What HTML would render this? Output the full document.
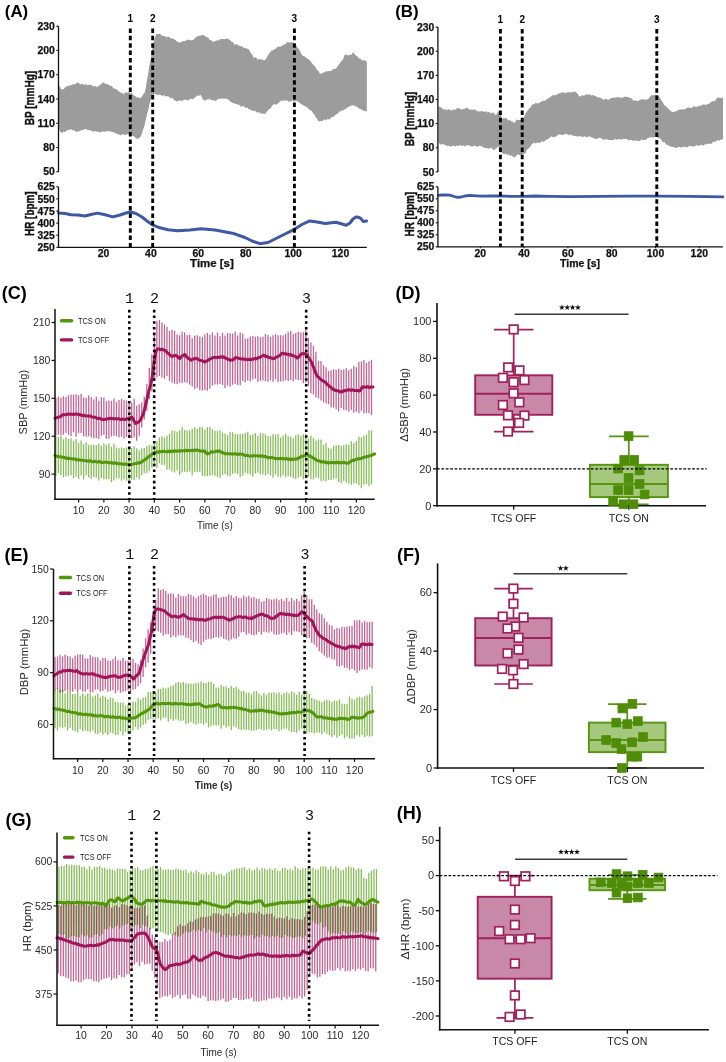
<!DOCTYPE html>
<html><head><meta charset="utf-8"><style>html,body{margin:0;padding:0;background:#fff;}svg{display:block;}</style></head><body>
<svg width="726" height="1062" viewBox="0 0 726 1062" font-family="Liberation Sans, sans-serif">
<rect width="726" height="1062" fill="#fff"/>
<polygon points="58.6,85.18 59.9,86.78 61.2,89.6 62.5,89.27 63.8,88.9 65.1,87.39 66.4,85.92 67.7,86.45 69,85.32 70.3,85.75 71.6,84.81 72.9,84.31 74.2,84.26 75.5,84.34 76.8,82.42 78.1,82.71 79.4,83.68 80.7,84.49 82,84.07 83.3,83.98 84.6,85.28 85.9,83.86 87.2,85.59 88.5,84.82 89.8,84.82 91.1,85.02 92.4,85.6 93.7,86.76 95,85.85 96.3,86.82 97.6,86.72 98.9,85.54 100.2,85.15 101.5,83.57 102.8,82.86 104.1,82.51 105.4,83.91 106.7,83.99 108,84.33 109.3,85.36 110.6,85.79 111.9,86.33 113.2,88.03 114.5,88.67 115.8,88.66 117.1,90.07 118.4,90.8 119.7,92.26 121,92.83 122.3,92.87 123.6,94.38 124.9,92.44 126.2,92.59 127.5,92.81 128.8,91.89 130.1,93.02 131.4,92.73 132.7,94.38 134,95.43 135.3,96.06 136.6,97.58 137.9,97.02 139.2,97.94 140.5,97.98 141.8,96.8 143.1,94.57 144.4,93.24 145.7,88.46 147,80.12 148.3,72.96 149.6,64.33 150.9,57.94 152.2,49.1 153.5,42.84 154.8,38.76 156.1,34.27 157.4,33.93 158.7,33.92 160,33.44 161.3,35.27 162.6,35.78 163.9,36.1 165.2,36.13 166.5,37.53 167.8,36.51 169.1,37.08 170.4,37.72 171.7,38.98 173,38.15 174.3,39.46 175.6,40.29 176.9,41.54 178.2,42.01 179.5,42.67 180.8,42.01 182.1,41.65 183.4,40.95 184.7,41.29 186,40.82 187.3,39.58 188.6,39.84 189.9,40.14 191.2,40.36 192.5,40.22 193.8,39.47 195.1,37.95 196.4,36.54 197.7,36.52 199,35.8 200.3,35.53 201.6,35.6 202.9,34.85 204.2,35.42 205.5,36.5 206.8,37.49 208.1,37.26 209.4,39.55 210.7,40.1 212,41.03 213.3,41.66 214.6,41.27 215.9,40.93 217.2,40.05 218.5,40.65 219.8,39.27 221.1,39.12 222.4,39.26 223.7,39.06 225,39.26 226.3,38.62 227.6,38.41 228.9,39.51 230.2,40.33 231.5,41.71 232.8,42.01 234.1,44.23 235.4,44.42 236.7,44.25 238,45.1 239.3,45.86 240.6,46.13 241.9,45.94 243.2,47.48 244.5,48.19 245.8,48.01 247.1,48.82 248.4,49.04 249.7,50.89 251,53.15 252.3,54.83 253.6,57.67 254.9,57.26 256.2,57.48 257.5,59.63 258.8,59.25 260.1,58.88 261.4,59.91 262.7,59.3 264,60.53 265.3,59.67 266.6,57.63 267.9,55.49 269.2,53.28 270.5,52.07 271.8,50.32 273.1,50.45 274.4,49.14 275.7,48.7 277,47.22 278.3,46.41 279.6,46.85 280.9,46.5 282.2,45.58 283.5,44.81 284.8,44.23 286.1,43.54 287.4,42.06 288.7,42.45 290,42.39 291.3,42.03 292.6,42.45 293.9,43.55 295.2,44.17 296.5,46.01 297.8,48.22 299.1,49.07 300.4,52.13 301.7,54.4 303,56.28 304.3,56.37 305.6,57.26 306.9,58.42 308.2,59.2 309.5,60.03 310.8,61.6 312.1,63.15 313.4,64.9 314.7,66.11 316,68.28 317.3,70.39 318.6,70.95 319.9,73.66 321.2,73.67 322.5,73.01 323.8,72.52 325.1,71.76 326.4,70.98 327.7,71.84 329,70.76 330.3,71.07 331.6,70.84 332.9,69.27 334.2,68.68 335.5,68.75 336.8,67.44 338.1,65.54 339.4,64.1 340.7,61.76 342,60.73 343.3,58.42 344.6,55.1 345.9,54.19 347.2,55.33 348.5,55.32 349.8,54.87 351.1,54.9 352.4,53.31 353.7,52.26 355,54.9 356.3,55.54 357.6,56.51 358.9,58.43 360.2,58.44 361.5,59.9 362.8,60.48 364.1,60.06 365.4,60.82 366.7,61.57 366.8,62 366.8,112 366.7,111.05 365.4,111.26 364.1,110.93 362.8,110.16 361.5,109.49 360.2,108.79 358.9,108.76 357.6,106.93 356.3,106.87 355,106.01 353.7,105.4 352.4,105.34 351.1,105.74 349.8,105.96 348.5,107.15 347.2,107.4 345.9,108.65 344.6,109.43 343.3,110.31 342,110.53 340.7,111.34 339.4,111.4 338.1,113.36 336.8,113.96 335.5,114.64 334.2,116.18 332.9,117.14 331.6,116.77 330.3,118.91 329,119.49 327.7,118.69 326.4,120.43 325.1,119.49 323.8,119.84 322.5,120.99 321.2,120.96 319.9,121.12 318.6,121.55 317.3,119.31 316,117.57 314.7,115.14 313.4,113.65 312.1,111.52 310.8,110.34 309.5,109.9 308.2,108.26 306.9,107.51 305.6,106.2 304.3,106.25 303,104.86 301.7,104.52 300.4,103.59 299.1,102.54 297.8,101.04 296.5,101.3 295.2,100.83 293.9,101.63 292.6,100.29 291.3,100.91 290,101.74 288.7,101.79 287.4,100.54 286.1,100.8 284.8,100.22 283.5,100.69 282.2,100.38 280.9,100.98 279.6,101.75 278.3,103.15 277,104.13 275.7,104.67 274.4,103.9 273.1,104.71 271.8,106.36 270.5,108.72 269.2,109 267.9,110.58 266.6,111.91 265.3,113.91 264,113.75 262.7,113.75 261.4,113.46 260.1,113.27 258.8,111.97 257.5,112.72 256.2,111.81 254.9,111.1 253.6,110.52 252.3,110.93 251,109.94 249.7,109.27 248.4,109.3 247.1,107.36 245.8,108.19 244.5,106.85 243.2,106.08 241.9,106.47 240.6,106.54 239.3,104.87 238,104.82 236.7,103.93 235.4,104.05 234.1,103.19 232.8,103.03 231.5,101.91 230.2,101.86 228.9,100.06 227.6,99.16 226.3,98.87 225,98.52 223.7,98.63 222.4,98.45 221.1,98.6 219.8,99.11 218.5,98.76 217.2,99.39 215.9,100.95 214.6,100.65 213.3,100.14 212,99.92 210.7,100.22 209.4,98.35 208.1,99.94 206.8,98.98 205.5,100.71 204.2,100.13 202.9,99.56 201.6,96.46 200.3,94.81 199,95.91 197.7,95.39 196.4,96.07 195.1,97.83 193.8,98.28 192.5,99.58 191.2,98.71 189.9,99.05 188.6,100.19 187.3,100.5 186,99.75 184.7,99.4 183.4,99.95 182.1,101.16 180.8,100.13 179.5,100.83 178.2,100.69 176.9,101.64 175.6,100.69 174.3,100.43 173,98.16 171.7,98.35 170.4,98.02 169.1,97.06 167.8,96.07 166.5,96.39 165.2,96.16 163.9,94.98 162.6,96.06 161.3,95.14 160,94.74 158.7,94.81 157.4,94.88 156.1,94.42 154.8,93.62 153.5,94.52 152.2,96.87 150.9,99.52 149.6,103.5 148.3,109.95 147,114.01 145.7,120.58 144.4,125.66 143.1,129.56 141.8,134.08 140.5,137.04 139.2,137.73 137.9,139.37 136.6,138.62 135.3,137.86 134,136.23 132.7,136.08 131.4,135.32 130.1,135.53 128.8,134.44 127.5,133.95 126.2,134.69 124.9,134.93 123.6,134.4 122.3,134.01 121,135.4 119.7,134.86 118.4,134.13 117.1,134.15 115.8,132.9 114.5,132.61 113.2,132.07 111.9,132.12 110.6,131.4 109.3,131.19 108,131.34 106.7,130.99 105.4,131.79 104.1,131.47 102.8,131.42 101.5,131.66 100.2,132.48 98.9,131.88 97.6,131.59 96.3,131.91 95,130.85 93.7,131.83 92.4,131.17 91.1,130.74 89.8,129.98 88.5,129.97 87.2,129.86 85.9,128.98 84.6,128.91 83.3,130.58 82,129.69 80.7,130.53 79.4,131.41 78.1,131.08 76.8,132.19 75.5,131.21 74.2,130.16 72.9,130.45 71.6,129.19 70.3,129.77 69,129.79 67.7,130.15 66.4,130.55 65.1,132.23 63.8,131.54 62.5,132.76 61.2,132.47 59.9,131.46 58.6,127.53" fill="#9c9c9c"/>
<polyline points="58.8,213.1 65,213.5 71,214.7 78,215 85,216 91,214.5 97.4,213.1 104,214.5 112.8,216.9 120,215 126,213 130.4,212 136,213.5 142,217 147,221 152.4,224.8 160,227.8 168,229.8 177.8,230.7 190,230 201,228.7 215,230 232.4,233.2 245,237.5 252,241 259.8,243.7 268,242.5 280,236.5 294.4,229.3 302,224.5 309.6,220.9 317,222 325.3,223.5 335.8,222.2 342,224 346.2,225.3 350,223 353,219 355.9,217 358.5,217.2 360.6,218.3 363.2,221.4 366.5,221" fill="none" stroke="#3d59a3" stroke-width="3" stroke-linejoin="round" stroke-linecap="round"/>
<line x1="58.5" y1="26.2" x2="58.5" y2="171.8" stroke="#111" stroke-width="1.3"/>
<line x1="58.5" y1="186.8" x2="58.5" y2="247.3" stroke="#111" stroke-width="1.3"/>
<line x1="57.9" y1="247.3" x2="366.8" y2="247.3" stroke="#111" stroke-width="1.3"/>
<line x1="56.3" y1="26.2" x2="58.5" y2="26.2" stroke="#111" stroke-width="1.1"/>
<text x="54.9" y="29.82" font-size="10.5" font-weight="bold" fill="#111" text-anchor="end" textLength="17.4" lengthAdjust="spacingAndGlyphs" stroke="#111" stroke-width="0.25">230</text>
<line x1="56.3" y1="50.47" x2="58.5" y2="50.47" stroke="#111" stroke-width="1.1"/>
<text x="54.9" y="54.09" font-size="10.5" font-weight="bold" fill="#111" text-anchor="end" textLength="17.4" lengthAdjust="spacingAndGlyphs" stroke="#111" stroke-width="0.25">200</text>
<line x1="56.3" y1="74.73" x2="58.5" y2="74.73" stroke="#111" stroke-width="1.1"/>
<text x="54.9" y="78.36" font-size="10.5" font-weight="bold" fill="#111" text-anchor="end" textLength="17.4" lengthAdjust="spacingAndGlyphs" stroke="#111" stroke-width="0.25">170</text>
<line x1="56.3" y1="99" x2="58.5" y2="99" stroke="#111" stroke-width="1.1"/>
<text x="54.9" y="102.62" font-size="10.5" font-weight="bold" fill="#111" text-anchor="end" textLength="17.4" lengthAdjust="spacingAndGlyphs" stroke="#111" stroke-width="0.25">140</text>
<line x1="56.3" y1="123.27" x2="58.5" y2="123.27" stroke="#111" stroke-width="1.1"/>
<text x="54.9" y="126.89" font-size="10.5" font-weight="bold" fill="#111" text-anchor="end" textLength="17.4" lengthAdjust="spacingAndGlyphs" stroke="#111" stroke-width="0.25">110</text>
<line x1="56.3" y1="147.53" x2="58.5" y2="147.53" stroke="#111" stroke-width="1.1"/>
<text x="54.9" y="151.16" font-size="10.5" font-weight="bold" fill="#111" text-anchor="end" textLength="11.6" lengthAdjust="spacingAndGlyphs" stroke="#111" stroke-width="0.25">80</text>
<line x1="56.3" y1="171.8" x2="58.5" y2="171.8" stroke="#111" stroke-width="1.1"/>
<text x="54.9" y="175.42" font-size="10.5" font-weight="bold" fill="#111" text-anchor="end" textLength="11.6" lengthAdjust="spacingAndGlyphs" stroke="#111" stroke-width="0.25">50</text>
<line x1="56.3" y1="186.8" x2="58.5" y2="186.8" stroke="#111" stroke-width="1.1"/>
<text x="54.9" y="190.42" font-size="10.5" font-weight="bold" fill="#111" text-anchor="end" textLength="17.4" lengthAdjust="spacingAndGlyphs" stroke="#111" stroke-width="0.25">625</text>
<line x1="56.3" y1="198.9" x2="58.5" y2="198.9" stroke="#111" stroke-width="1.1"/>
<text x="54.9" y="202.52" font-size="10.5" font-weight="bold" fill="#111" text-anchor="end" textLength="17.4" lengthAdjust="spacingAndGlyphs" stroke="#111" stroke-width="0.25">550</text>
<line x1="56.3" y1="211" x2="58.5" y2="211" stroke="#111" stroke-width="1.1"/>
<text x="54.9" y="214.62" font-size="10.5" font-weight="bold" fill="#111" text-anchor="end" textLength="17.4" lengthAdjust="spacingAndGlyphs" stroke="#111" stroke-width="0.25">475</text>
<line x1="56.3" y1="223.1" x2="58.5" y2="223.1" stroke="#111" stroke-width="1.1"/>
<text x="54.9" y="226.72" font-size="10.5" font-weight="bold" fill="#111" text-anchor="end" textLength="17.4" lengthAdjust="spacingAndGlyphs" stroke="#111" stroke-width="0.25">400</text>
<line x1="56.3" y1="235.2" x2="58.5" y2="235.2" stroke="#111" stroke-width="1.1"/>
<text x="54.9" y="238.82" font-size="10.5" font-weight="bold" fill="#111" text-anchor="end" textLength="17.4" lengthAdjust="spacingAndGlyphs" stroke="#111" stroke-width="0.25">325</text>
<line x1="56.3" y1="247.3" x2="58.5" y2="247.3" stroke="#111" stroke-width="1.1"/>
<text x="54.9" y="250.92" font-size="10.5" font-weight="bold" fill="#111" text-anchor="end" textLength="17.4" lengthAdjust="spacingAndGlyphs" stroke="#111" stroke-width="0.25">250</text>
<line x1="103.5" y1="247.3" x2="103.5" y2="248.8" stroke="#111" stroke-width="1"/>
<text x="103.5" y="256.85" font-size="10.3" font-weight="bold" fill="#111" text-anchor="middle" textLength="11.6" lengthAdjust="spacingAndGlyphs" stroke="#111" stroke-width="0.25">20</text>
<line x1="150.9" y1="247.3" x2="150.9" y2="248.8" stroke="#111" stroke-width="1"/>
<text x="150.9" y="256.85" font-size="10.3" font-weight="bold" fill="#111" text-anchor="middle" textLength="11.6" lengthAdjust="spacingAndGlyphs" stroke="#111" stroke-width="0.25">40</text>
<line x1="198.3" y1="247.3" x2="198.3" y2="248.8" stroke="#111" stroke-width="1"/>
<text x="198.3" y="256.85" font-size="10.3" font-weight="bold" fill="#111" text-anchor="middle" textLength="11.6" lengthAdjust="spacingAndGlyphs" stroke="#111" stroke-width="0.25">60</text>
<line x1="245.7" y1="247.3" x2="245.7" y2="248.8" stroke="#111" stroke-width="1"/>
<text x="245.7" y="256.85" font-size="10.3" font-weight="bold" fill="#111" text-anchor="middle" textLength="11.6" lengthAdjust="spacingAndGlyphs" stroke="#111" stroke-width="0.25">80</text>
<line x1="293.1" y1="247.3" x2="293.1" y2="248.8" stroke="#111" stroke-width="1"/>
<text x="293.1" y="256.85" font-size="10.3" font-weight="bold" fill="#111" text-anchor="middle" textLength="17.4" lengthAdjust="spacingAndGlyphs" stroke="#111" stroke-width="0.25">100</text>
<line x1="340.5" y1="247.3" x2="340.5" y2="248.8" stroke="#111" stroke-width="1"/>
<text x="340.5" y="256.85" font-size="10.3" font-weight="bold" fill="#111" text-anchor="middle" textLength="17.4" lengthAdjust="spacingAndGlyphs" stroke="#111" stroke-width="0.25">120</text>
<line x1="130.3" y1="28.4" x2="130.3" y2="247.3" stroke="#000" stroke-width="2.9" stroke-dasharray="4.5 2.9"/>
<text x="130.3" y="21.92" font-size="10.2" font-weight="bold" fill="#000" text-anchor="middle" textLength="5.6" lengthAdjust="spacingAndGlyphs">1</text>
<line x1="152.7" y1="28.4" x2="152.7" y2="247.3" stroke="#000" stroke-width="2.9" stroke-dasharray="4.5 2.9"/>
<text x="152.7" y="21.92" font-size="10.2" font-weight="bold" fill="#000" text-anchor="middle" textLength="5.6" lengthAdjust="spacingAndGlyphs">2</text>
<line x1="294.4" y1="28.4" x2="294.4" y2="247.3" stroke="#000" stroke-width="2.9" stroke-dasharray="4.5 2.9"/>
<text x="294.4" y="21.92" font-size="10.2" font-weight="bold" fill="#000" text-anchor="middle" textLength="5.6" lengthAdjust="spacingAndGlyphs">3</text>
<text x="4.8" y="17.17" font-size="17.3" font-weight="bold" fill="#000" text-anchor="start" textLength="23.4" lengthAdjust="spacingAndGlyphs">(A)</text>
<text transform="translate(33.6,98.1) scale(1.3,1) rotate(-90)" font-size="10.2" font-weight="bold" fill="#111" stroke="#111" stroke-width="0.35" text-anchor="middle" textLength="54.5" lengthAdjust="spacingAndGlyphs">BP [mmHg]</text>
<text transform="translate(33.6,213.7) scale(1.3,1) rotate(-90)" font-size="10.2" font-weight="bold" fill="#111" stroke="#111" stroke-width="0.35" text-anchor="middle" textLength="44.5" lengthAdjust="spacingAndGlyphs">HR [bpm]</text>
<text x="211.95" y="266.82" font-size="10.2" font-weight="bold" fill="#111" text-anchor="middle" textLength="43.7" lengthAdjust="spacingAndGlyphs" stroke="#111" stroke-width="0.25">Time [s]</text>
<polygon points="438.4,106.44 439.7,106.75 441,107.28 442.3,108.48 443.6,109.57 444.9,108.78 446.2,110.26 447.5,109.58 448.8,109.34 450.1,109.76 451.4,110.68 452.7,109.47 454,109.87 455.3,109.78 456.6,108.59 457.9,108.06 459.2,108.22 460.5,108.93 461.8,109.43 463.1,109.08 464.4,108.98 465.7,107.81 467,108.01 468.3,108.48 469.6,109.64 470.9,109.13 472.2,109.89 473.5,109.19 474.8,109.57 476.1,110.24 477.4,111.14 478.7,111.33 480,111.46 481.3,110.92 482.6,111.48 483.9,111.52 485.2,111.64 486.5,111.14 487.8,112.65 489.1,111.52 490.4,113.19 491.7,113.45 493,112.13 494.3,113.64 495.6,115 496.9,114.09 498.2,110.79 499.5,112.61 500.8,114.99 502.1,118.77 503.4,118.24 504.7,118.29 506,117.87 507.3,119.22 508.6,120.66 509.9,119.72 511.2,121.34 512.5,121.37 513.8,122.98 515.1,122.62 516.4,119.36 517.7,120.07 519,120.03 520.3,120.11 521.6,119.91 522.9,119.77 524.2,116.74 525.5,113.86 526.8,111.54 528.1,109.88 529.4,107.93 530.7,107.43 532,104.47 533.3,104.37 534.6,104.09 535.9,102.54 537.2,103.7 538.5,102.9 539.8,102.82 541.1,101.39 542.4,101.22 543.7,100.56 545,100.96 546.3,99.53 547.6,98.47 548.9,97.99 550.2,97.11 551.5,95.98 552.8,95.07 554.1,95.76 555.4,94.39 556.7,95.17 558,93.55 559.3,93.18 560.6,93.21 561.9,92.23 563.2,92.2 564.5,92.91 565.8,92.69 567.1,92.46 568.4,92.03 569.7,92.44 571,92.39 572.3,91.84 573.6,92.29 574.9,91.23 576.2,92.44 577.5,93.48 578.8,95.87 580.1,96.83 581.4,95.77 582.7,94.93 584,96.09 585.3,94.31 586.6,94.83 587.9,94.5 589.2,94.31 590.5,95.01 591.8,95.49 593.1,94.8 594.4,96.1 595.7,96.05 597,97.1 598.3,97.38 599.6,97.55 600.9,98.12 602.2,98.77 603.5,99.96 604.8,99.16 606.1,98.59 607.4,99.76 608.7,99.81 610,98.67 611.3,97.96 612.6,97.89 613.9,97.55 615.2,97.83 616.5,97.21 617.8,97.31 619.1,97.18 620.4,97.58 621.7,98 623,97.61 624.3,96.85 625.6,96.7 626.9,96.75 628.2,97.17 629.5,97.85 630.8,98.1 632.1,99.09 633.4,100.91 634.7,99.97 636,100.92 637.3,100.91 638.6,101.09 639.9,99.69 641.2,99.56 642.5,99.35 643.8,99.45 645.1,99.36 646.4,100.05 647.7,99.06 649,98.29 650.3,95.94 651.6,95.11 652.9,95.47 654.2,95.27 655.5,94.72 656.8,95.13 658.1,95.06 659.4,96.9 660.7,99.32 662,101.09 663.3,103.15 664.6,105.56 665.9,106.26 667.2,107.39 668.5,108.85 669.8,110.37 671.1,111.2 672.4,112.2 673.7,111.93 675,111.42 676.3,111.25 677.6,110.33 678.9,110.12 680.2,108.91 681.5,109.97 682.8,108.7 684.1,109.66 685.4,108.89 686.7,108.03 688,107.5 689.3,107.5 690.6,107.98 691.9,107.87 693.2,106.6 694.5,106.31 695.8,106.88 697.1,106.71 698.4,106.09 699.7,105.53 701,105.94 702.3,104.61 703.6,104.79 704.9,104.59 706.2,105 707.5,103.95 708.8,103.88 710.1,102.63 711.4,101.68 712.7,100.98 714,101.45 715.3,100.17 716.6,98.59 717.9,97.21 719.2,97.8 720.5,98.11 721.8,97.66 723,97.8 723,138.7 721.8,139.81 720.5,139.68 719.2,141.12 717.9,140.03 716.6,140.78 715.3,142.11 714,141.55 712.7,142.24 711.4,143.77 710.1,143.9 708.8,143.44 707.5,143.69 706.2,144.41 704.9,144.3 703.6,145.81 702.3,144.88 701,145.01 699.7,145.42 698.4,146.11 697.1,145.33 695.8,145.38 694.5,146.54 693.2,146.56 691.9,146.41 690.6,145.99 689.3,146.04 688,147.03 686.7,147.59 685.4,146.63 684.1,146.94 682.8,146.81 681.5,147.79 680.2,147.26 678.9,146.78 677.6,147.22 676.3,148.01 675,147.81 673.7,147.08 672.4,146.88 671.1,146.66 669.8,146.27 668.5,145.14 667.2,145.01 665.9,144.08 664.6,142.05 663.3,142.4 662,140.97 660.7,138.97 659.4,138.24 658.1,138.09 656.8,136.38 655.5,137.05 654.2,136.88 652.9,138.04 651.6,137.05 650.3,137.26 649,137.91 647.7,137.79 646.4,139.69 645.1,139.87 643.8,140.14 642.5,139.83 641.2,139.4 639.9,141.19 638.6,140.78 637.3,141.25 636,140.24 634.7,140.58 633.4,141.3 632.1,140.07 630.8,139.78 629.5,140.09 628.2,140.49 626.9,139.03 625.6,139.05 624.3,138.91 623,138.77 621.7,139.77 620.4,139.15 619.1,139.53 617.8,139.06 616.5,140.08 615.2,138.81 613.9,139.83 612.6,140.21 611.3,140.08 610,139.99 608.7,139.94 607.4,139.62 606.1,139.25 604.8,139.41 603.5,139.66 602.2,139.05 600.9,138.1 599.6,137.86 598.3,137.99 597,139.14 595.7,138.79 594.4,138.81 593.1,137.48 591.8,137.73 590.5,136.67 589.2,136.6 587.9,136.81 586.6,137.6 585.3,136.48 584,136.16 582.7,137.33 581.4,136.47 580.1,136.29 578.8,136.21 577.5,136.41 576.2,136.37 574.9,136.12 573.6,135.63 572.3,135.54 571,134.28 569.7,135.47 568.4,134.53 567.1,134.3 565.8,133.86 564.5,133.99 563.2,134.9 561.9,134.92 560.6,134.47 559.3,134.46 558,134.5 556.7,136.57 555.4,136.4 554.1,137.25 552.8,137.31 551.5,136.3 550.2,137.37 548.9,138.13 547.6,139.54 546.3,139.41 545,140.67 543.7,141.88 542.4,141.24 541.1,141.66 539.8,142.93 538.5,142.93 537.2,142.32 535.9,143.8 534.6,142.81 533.3,143.31 532,143.88 530.7,146.21 529.4,147.86 528.1,148.72 526.8,149.9 525.5,153.35 524.2,153.68 522.9,153.7 521.6,155.33 520.3,154.67 519,154.89 517.7,154.17 516.4,155.45 515.1,157.39 513.8,157.29 512.5,155.94 511.2,155.15 509.9,155.98 508.6,154.03 507.3,155.17 506,153.73 504.7,153.96 503.4,153.81 502.1,153.22 500.8,151.15 499.5,148.63 498.2,146 496.9,148.05 495.6,148.45 494.3,150.08 493,149.75 491.7,147.73 490.4,147.77 489.1,148.63 487.8,148.53 486.5,147.86 485.2,147.96 483.9,147.82 482.6,146.75 481.3,145.98 480,145.83 478.7,145.88 477.4,147.26 476.1,145.77 474.8,145.98 473.5,145.44 472.2,146.81 470.9,146.23 469.6,145.71 468.3,145.29 467,145.16 465.7,145.64 464.4,146.39 463.1,145.14 461.8,146.03 460.5,145.13 459.2,145.22 457.9,146.35 456.6,145.51 455.3,146.77 454,145.46 452.7,146.07 451.4,146.52 450.1,146.59 448.8,145.48 447.5,146.31 446.2,145.54 444.9,145.09 443.6,144.25 442.3,144.1 441,144.76 439.7,143.7 438.4,142.36" fill="#9c9c9c"/>
<polyline points="438.4,195.3 442,195 446,194.8 450,195.2 454,196.5 457.5,197.4 461,197 465,196 470,195.4 476,195.8 484,196.2 492,196 500,195.8 510,196.3 522,196.4 535,196 550,196.3 570,196.6 600,196.3 630,196.1 657,196.2 690,196.4 723,196.8" fill="none" stroke="#3d59a3" stroke-width="2.8" stroke-linejoin="round" stroke-linecap="round"/>
<line x1="437.9" y1="27.1" x2="437.9" y2="171.9" stroke="#111" stroke-width="1.3"/>
<line x1="437.9" y1="186.8" x2="437.9" y2="246.8" stroke="#111" stroke-width="1.3"/>
<line x1="437.3" y1="246.8" x2="722.8" y2="246.8" stroke="#111" stroke-width="1.3"/>
<line x1="435.7" y1="27.1" x2="437.9" y2="27.1" stroke="#111" stroke-width="1.1"/>
<text x="434.3" y="30.72" font-size="10.5" font-weight="bold" fill="#111" text-anchor="end" textLength="17.4" lengthAdjust="spacingAndGlyphs" stroke="#111" stroke-width="0.25">230</text>
<line x1="435.7" y1="51.23" x2="437.9" y2="51.23" stroke="#111" stroke-width="1.1"/>
<text x="434.3" y="54.86" font-size="10.5" font-weight="bold" fill="#111" text-anchor="end" textLength="17.4" lengthAdjust="spacingAndGlyphs" stroke="#111" stroke-width="0.25">200</text>
<line x1="435.7" y1="75.37" x2="437.9" y2="75.37" stroke="#111" stroke-width="1.1"/>
<text x="434.3" y="78.99" font-size="10.5" font-weight="bold" fill="#111" text-anchor="end" textLength="17.4" lengthAdjust="spacingAndGlyphs" stroke="#111" stroke-width="0.25">170</text>
<line x1="435.7" y1="99.5" x2="437.9" y2="99.5" stroke="#111" stroke-width="1.1"/>
<text x="434.3" y="103.12" font-size="10.5" font-weight="bold" fill="#111" text-anchor="end" textLength="17.4" lengthAdjust="spacingAndGlyphs" stroke="#111" stroke-width="0.25">140</text>
<line x1="435.7" y1="123.63" x2="437.9" y2="123.63" stroke="#111" stroke-width="1.1"/>
<text x="434.3" y="127.26" font-size="10.5" font-weight="bold" fill="#111" text-anchor="end" textLength="17.4" lengthAdjust="spacingAndGlyphs" stroke="#111" stroke-width="0.25">110</text>
<line x1="435.7" y1="147.77" x2="437.9" y2="147.77" stroke="#111" stroke-width="1.1"/>
<text x="434.3" y="151.39" font-size="10.5" font-weight="bold" fill="#111" text-anchor="end" textLength="11.6" lengthAdjust="spacingAndGlyphs" stroke="#111" stroke-width="0.25">80</text>
<line x1="435.7" y1="171.9" x2="437.9" y2="171.9" stroke="#111" stroke-width="1.1"/>
<text x="434.3" y="175.52" font-size="10.5" font-weight="bold" fill="#111" text-anchor="end" textLength="11.6" lengthAdjust="spacingAndGlyphs" stroke="#111" stroke-width="0.25">50</text>
<line x1="435.7" y1="186.8" x2="437.9" y2="186.8" stroke="#111" stroke-width="1.1"/>
<text x="434.3" y="190.42" font-size="10.5" font-weight="bold" fill="#111" text-anchor="end" textLength="17.4" lengthAdjust="spacingAndGlyphs" stroke="#111" stroke-width="0.25">625</text>
<line x1="435.7" y1="198.8" x2="437.9" y2="198.8" stroke="#111" stroke-width="1.1"/>
<text x="434.3" y="202.42" font-size="10.5" font-weight="bold" fill="#111" text-anchor="end" textLength="17.4" lengthAdjust="spacingAndGlyphs" stroke="#111" stroke-width="0.25">550</text>
<line x1="435.7" y1="210.8" x2="437.9" y2="210.8" stroke="#111" stroke-width="1.1"/>
<text x="434.3" y="214.42" font-size="10.5" font-weight="bold" fill="#111" text-anchor="end" textLength="17.4" lengthAdjust="spacingAndGlyphs" stroke="#111" stroke-width="0.25">475</text>
<line x1="435.7" y1="222.8" x2="437.9" y2="222.8" stroke="#111" stroke-width="1.1"/>
<text x="434.3" y="226.42" font-size="10.5" font-weight="bold" fill="#111" text-anchor="end" textLength="17.4" lengthAdjust="spacingAndGlyphs" stroke="#111" stroke-width="0.25">400</text>
<line x1="435.7" y1="234.8" x2="437.9" y2="234.8" stroke="#111" stroke-width="1.1"/>
<text x="434.3" y="238.42" font-size="10.5" font-weight="bold" fill="#111" text-anchor="end" textLength="17.4" lengthAdjust="spacingAndGlyphs" stroke="#111" stroke-width="0.25">325</text>
<line x1="435.7" y1="246.8" x2="437.9" y2="246.8" stroke="#111" stroke-width="1.1"/>
<text x="434.3" y="250.42" font-size="10.5" font-weight="bold" fill="#111" text-anchor="end" textLength="17.4" lengthAdjust="spacingAndGlyphs" stroke="#111" stroke-width="0.25">250</text>
<line x1="480.3" y1="246.8" x2="480.3" y2="248.3" stroke="#111" stroke-width="1"/>
<text x="480.3" y="256.65" font-size="10.3" font-weight="bold" fill="#111" text-anchor="middle" textLength="11.6" lengthAdjust="spacingAndGlyphs" stroke="#111" stroke-width="0.25">20</text>
<line x1="524.1" y1="246.8" x2="524.1" y2="248.3" stroke="#111" stroke-width="1"/>
<text x="524.1" y="256.65" font-size="10.3" font-weight="bold" fill="#111" text-anchor="middle" textLength="11.6" lengthAdjust="spacingAndGlyphs" stroke="#111" stroke-width="0.25">40</text>
<line x1="567.9" y1="246.8" x2="567.9" y2="248.3" stroke="#111" stroke-width="1"/>
<text x="567.9" y="256.65" font-size="10.3" font-weight="bold" fill="#111" text-anchor="middle" textLength="11.6" lengthAdjust="spacingAndGlyphs" stroke="#111" stroke-width="0.25">60</text>
<line x1="611.7" y1="246.8" x2="611.7" y2="248.3" stroke="#111" stroke-width="1"/>
<text x="611.7" y="256.65" font-size="10.3" font-weight="bold" fill="#111" text-anchor="middle" textLength="11.6" lengthAdjust="spacingAndGlyphs" stroke="#111" stroke-width="0.25">80</text>
<line x1="655.5" y1="246.8" x2="655.5" y2="248.3" stroke="#111" stroke-width="1"/>
<text x="655.5" y="256.65" font-size="10.3" font-weight="bold" fill="#111" text-anchor="middle" textLength="17.4" lengthAdjust="spacingAndGlyphs" stroke="#111" stroke-width="0.25">100</text>
<line x1="699.3" y1="246.8" x2="699.3" y2="248.3" stroke="#111" stroke-width="1"/>
<text x="699.3" y="256.65" font-size="10.3" font-weight="bold" fill="#111" text-anchor="middle" textLength="17.4" lengthAdjust="spacingAndGlyphs" stroke="#111" stroke-width="0.25">120</text>
<line x1="500.4" y1="29" x2="500.4" y2="246.8" stroke="#000" stroke-width="2.9" stroke-dasharray="4.5 2.9"/>
<text x="500.4" y="23.42" font-size="10.2" font-weight="bold" fill="#000" text-anchor="middle" textLength="5.6" lengthAdjust="spacingAndGlyphs">1</text>
<line x1="522.2" y1="29" x2="522.2" y2="246.8" stroke="#000" stroke-width="2.9" stroke-dasharray="4.5 2.9"/>
<text x="522.2" y="23.42" font-size="10.2" font-weight="bold" fill="#000" text-anchor="middle" textLength="5.6" lengthAdjust="spacingAndGlyphs">2</text>
<line x1="656.8" y1="29" x2="656.8" y2="246.8" stroke="#000" stroke-width="2.9" stroke-dasharray="4.5 2.9"/>
<text x="656.8" y="23.42" font-size="10.2" font-weight="bold" fill="#000" text-anchor="middle" textLength="5.6" lengthAdjust="spacingAndGlyphs">3</text>
<text x="395.2" y="17.17" font-size="17.3" font-weight="bold" fill="#000" text-anchor="start" textLength="23.4" lengthAdjust="spacingAndGlyphs">(B)</text>
<text transform="translate(413.8,119.1) scale(1.3,1) rotate(-90)" font-size="10.2" font-weight="bold" fill="#111" stroke="#111" stroke-width="0.35" text-anchor="middle" textLength="54.5" lengthAdjust="spacingAndGlyphs">BP [mmHg]</text>
<text transform="translate(413.8,214.2) scale(1.3,1) rotate(-90)" font-size="10.2" font-weight="bold" fill="#111" stroke="#111" stroke-width="0.35" text-anchor="middle" textLength="44.5" lengthAdjust="spacingAndGlyphs">HR [bpm]</text>
<text x="580" y="266.82" font-size="10.2" font-weight="bold" fill="#111" text-anchor="middle" textLength="40" lengthAdjust="spacingAndGlyphs" stroke="#111" stroke-width="0.25">Time [s]</text>
<path d="M55.88 435.83V476.35M58.4 436.84V473.29M60.92 435.55V475.33M63.45 439.18V477.23M65.97 437.29V476.16M68.5 439.04V475.87M71.03 438.46V475.11M73.55 440.64V478.31M76.08 439.19V476.56M78.6 442.85V479.01M81.12 440.44V475.41M83.65 444.16V479.59M86.17 442.33V475.62M88.7 444.66V477.44M91.22 444.85V478.79M93.75 444.77V476.95M96.28 444.89V477.51M98.8 443.42V480.66M101.33 445.7V477.89M103.85 443.24V479.16M106.38 444.97V479.37M108.9 443.51V479.02M111.42 446.63V482.13M113.95 443.84V480.59M116.47 447.49V478.18M119 448.22V478.54M121.53 447.47V480.53M124.05 447.95V479.41M126.57 447.29V480.68M129.1 447.57V481.03M131.62 447.92V479.64M134.15 446.22V479.89M136.68 448.62V477.55M139.2 450.13V479.47M141.72 448.46V475.32M144.25 448.03V473.22M146.78 445.94V472.94M149.3 445.26V471.22M151.82 445.22V467.77M154.35 443.28V466.42M156.88 441.16V468.08M159.4 437.56V463.22M161.93 436.13V464.97M164.45 437.15V464.69M166.97 435.68V469.48M169.5 434.07V469.48M172.03 430.56V471.43M174.55 430.9V472.58M177.07 431.81V470.2M179.6 430.19V474.98M182.12 426.7V472.51M184.65 429.88V471.63M187.17 430.52V472.16M189.7 430.15V471.56M192.22 428.71V475.13M194.75 427.36V472.11M197.27 428.73V472.37M199.8 426.57V471.74M202.32 427.14V475.77M204.85 429.53V476.18M207.38 427.18V476.28M209.9 426.93V475.72M212.42 429.33V474.92M214.95 430.42V475.77M217.47 430.7V477.24M220 430.18V477.71M222.52 432.72V474.91M225.05 433.62V474.28M227.57 434.64V475.67M230.1 431.86V476.5M232.62 432.37V473.75M235.15 433.88V473.12M237.67 434.35V474.02M240.2 433.66V477.34M242.72 433.71V475.83M245.25 432.74V472.74M247.77 431.75V473.38M250.3 434.72V474.64M252.82 434.53V476.73M255.35 433.07V473.62M257.88 435.76V472.64M260.4 433.02V474.16M262.93 433.57V474.35M265.45 434.18V475.58M267.98 435.93V474.02M270.5 436.16V475.45M273.02 433.98V477.75M275.55 434.55V474.31M278.07 433.94V476.75M280.6 437.57V477.59M283.12 435.48V475.39M285.65 433.76V477.33M288.18 436.36V476.15M290.7 436.81V476.77M293.23 438.22V478.28M295.75 435.13V479.25M298.27 434.25V477.72M300.8 435.97V476.56M303.32 434.37V479.26M305.85 434.16V478.42M308.38 438.43V476.75M310.9 435.43V479.1M313.43 438.01V479.46M315.95 440.58V477.52M318.48 439.42V478.31M321 439.61V481.22M323.53 444.73V480.63M326.05 442.9V481.43M328.57 448.04V479.9M331.1 448.74V480.05M333.62 445.75V478.66M336.15 445.16V478.56M338.68 445.02V482.04M341.2 446.05V482.92M343.73 445.51V480.97M346.25 444.17V482.46M348.78 444.63V483.56M351.3 441.16V484.82M353.82 442.91V483.57M356.35 441.04V483.35M358.88 436.72V485.07M361.4 437.47V488.25M363.93 435.87V484.68M366.45 434.82V483.97M368.98 430.21V485.91M371.5 430.35V484.2" stroke="#88bd5a" stroke-width="1.3" fill="none" opacity="1"/>
<path d="M55.88 397.73V435.27M58.4 396.72V434.83M60.92 397.67V435.12M63.45 396.37V434.71M65.97 396.88V432.99M68.5 395.14V434.64M71.03 394.42V436.17M73.55 394.62V432.31M76.08 394.35V436.66M78.6 395.34V433.24M81.12 394V433M83.65 397.43V435.98M86.17 397.83V436.71M88.7 395.31V436.29M91.22 397.06V437.58M93.75 399.53V438.17M96.28 396.44V438.32M98.8 400.73V438.92M101.33 397.33V435.7M103.85 397.6V435.01M106.38 401.24V438.69M108.9 400.51V438.85M111.42 400.75V436.48M113.95 398.55V435.71M116.47 401.83V436.3M119 400.07V437.41M121.53 398.8V436.68M124.05 400V438.79M126.57 400.39V436.98M129.1 403.13V437.82M131.62 402.62V438.34M134.15 398.84V437.4M136.68 405.73V440.73M139.2 404.1V435.68M141.72 402.45V427.63M144.25 396.48V419.59M146.78 383.78V410.8M149.3 367.79V399.01M151.82 354.28V391.17M154.35 333.99V381.09M156.88 321.2V377.51M159.4 319.93V375.92M161.93 322.48V377.52M164.45 324.15V378.83M166.97 326.68V376.28M169.5 331.12V381.01M172.03 329.74V382.67M174.55 330.64V383.78M177.07 334.51V384.2M179.6 335.22V382.64M182.12 331.69V383.24M184.65 332.31V382.24M187.17 335.08V382.73M189.7 334.72V384.66M192.22 338.25V386.59M194.75 335.84V389.18M197.27 335.17V388.07M199.8 336.55V390.25M202.32 337.01V390.59M204.85 334.54V389.95M207.38 333.04V390.81M209.9 334.77V388.68M212.42 332.58V385.62M214.95 335.46V384.6M217.47 332.58V384.57M220 336.17V384.09M222.52 333.08V384.94M225.05 335.54V387.99M227.57 333.11V385.38M230.1 333.59V386.66M232.62 333.59V384.79M235.15 331.57V383.8M237.67 335.5V385.18M240.2 332.44V385.14M242.72 333.4V381.37M245.25 338.42V382.25M247.77 338.23V380.57M250.3 336.55V381.48M252.82 335.74V379.46M255.35 336.63V378.64M257.88 336.28V382.1M260.4 337.24V380.73M262.93 336.66V380.54M265.45 334.1V381.15M267.98 335V381.76M270.5 337.02V380.3M273.02 335.18V381.74M275.55 334.17V379.32M278.07 335.25V382.29M280.6 335.2V381.43M283.12 335.31V381.31M285.65 334.09V380.24M288.18 332.32V381.02M290.7 331.08V380.03M293.23 333.98V381.35M295.75 333.02V379.2M298.27 331.82V380.11M300.8 332.43V380.11M303.32 332.25V383.22M305.85 329.57V382.67M308.38 337.82V385.84M310.9 342.39V393.17M313.43 345.9V394.38M315.95 351.83V397.55M318.48 360.79V398.43M321 361.03V400.46M323.53 365.22V402.43M326.05 367.26V403.39M328.57 370.89V404.16M331.1 370.19V407.43M333.62 369.27V407.53M336.15 370.11V409.21M338.68 368.86V411.54M341.2 369.94V408.08M343.73 369.56V409.91M346.25 368.36V410.25M348.78 370.23V411.79M351.3 368.8V410.05M353.82 366.04V412.49M356.35 367.16V411.76M358.88 361.67V413.27M361.4 361.4V410.78M363.93 359.99V413.57M366.45 362.93V413.11M368.98 361.17V412.98M371.5 359.85V415.02" stroke="#c06693" stroke-width="1.3" fill="none" opacity="1" style="mix-blend-mode:multiply"/>
<polyline points="55,455.47 56.26,456 57.52,456.44 58.78,456.71 60.04,456.67 61.3,456.79 62.56,457.29 63.82,457.19 65.08,458.1 66.34,457.93 67.6,458.58 68.86,458.27 70.12,458.58 71.38,458.67 72.64,459.04 73.9,459.03 75.16,459.08 76.42,459.94 77.68,459.75 78.94,459.85 80.2,460 81.46,460.27 82.72,460.33 83.98,460.62 85.24,460.75 86.5,460.58 87.76,461.2 89.02,461.24 90.28,460.63 91.54,461.47 92.8,461.68 94.06,461.71 95.32,461.27 96.58,462.03 97.84,461.99 99.1,461.57 100.36,461.71 101.62,462.7 102.88,462.57 104.14,462.3 105.4,462.22 106.66,462.32 107.92,462.45 109.18,463 110.44,462.66 111.7,462.54 112.96,463.27 114.22,463.23 115.48,462.75 116.74,463.54 118,463.42 119.26,463.72 120.52,463.75 121.78,464.09 123.04,464.13 124.3,464.32 125.56,463.88 126.82,464.46 128.08,464.45 129.34,464.66 130.6,464.24 131.86,464.5 133.12,464.06 134.38,463.66 135.64,463.44 136.9,463.12 138.16,463.2 139.42,462.58 140.68,462.71 141.94,461.58 143.2,460.92 144.46,459.96 145.72,459.02 146.98,458.34 148.24,456.61 149.5,456.41 150.76,455.11 152.02,454.24 153.28,453.38 154.54,452.6 155.8,452.05 157.06,451.95 158.32,452.3 159.58,451.36 160.84,451.79 162.1,451.74 163.36,451.14 164.62,451.61 165.88,451.63 167.14,451.8 168.4,451.21 169.66,451.75 170.92,451.27 172.18,451.2 173.44,451.52 174.7,450.69 175.96,451.26 177.22,451.12 178.48,450.82 179.74,451.24 181,450.73 182.26,450.77 183.52,450.76 184.78,450.92 186.04,450.36 187.3,450.5 188.56,450.43 189.82,450.49 191.08,450.67 192.34,450.13 193.6,450.55 194.86,450.11 196.12,450.14 197.38,449.96 198.64,450.37 199.9,451 201.16,450.92 202.42,451.24 203.68,451.03 204.94,451.23 206.2,452.9 207.46,454.05 208.72,453.46 209.98,452.97 211.24,451.67 212.5,451.88 213.76,451.98 215.02,451.63 216.28,451.13 217.54,451.31 218.8,451 220.06,451.14 221.32,452.31 222.58,452.53 223.84,453.08 225.1,453.67 226.36,453.84 227.62,453.64 228.88,453.71 230.14,453.79 231.4,453.92 232.66,453.9 233.92,454.04 235.18,453.68 236.44,454.16 237.7,454.04 238.96,454.38 240.22,453.88 241.48,454.16 242.74,454.25 244,455.13 245.26,455.47 246.52,455.45 247.78,455.4 249.04,456.03 250.3,456.16 251.56,455.96 252.82,455.68 254.08,455.72 255.34,455.83 256.6,455.74 257.86,455.84 259.12,456.03 260.38,456.35 261.64,455.77 262.9,456.44 264.16,456.17 265.42,456.45 266.68,457.27 267.94,457.27 269.2,457.78 270.46,457.57 271.72,457.38 272.98,457.87 274.24,458.16 275.5,458.58 276.76,458.72 278.02,458.38 279.28,458.43 280.54,458.26 281.8,458.86 283.06,458.57 284.32,458.63 285.58,458.59 286.84,458.64 288.1,459.31 289.36,458.87 290.62,459.69 291.88,458.96 293.14,459.72 294.4,459.12 295.66,458.95 296.92,459.02 298.18,458.03 299.44,457.91 300.7,456.85 301.96,456.19 303.22,456.31 304.48,455.72 305.74,455.31 307,454.76 308.26,454.79 309.52,455.9 310.78,456.59 312.04,456.99 313.3,458.23 314.56,458.43 315.82,459.89 317.08,460.48 318.34,460.66 319.6,460.94 320.86,461.72 322.12,462.07 323.38,461.61 324.64,462.02 325.9,462.6 327.16,462.3 328.42,463.12 329.68,462.75 330.94,462.32 332.2,462.56 333.46,462.71 334.72,462.55 335.98,462.72 337.24,462.2 338.5,462.78 339.76,462.43 341.02,462.72 342.28,462.74 343.54,462.59 344.8,462.6 346.06,462.99 347.32,463.17 348.58,462.92 349.84,462.09 351.1,461.21 352.36,460.37 353.62,460.57 354.88,459.69 356.14,459.53 357.4,458.82 358.66,458.8 359.92,458.87 361.18,458.47 362.44,457.96 363.7,457.33 364.96,457.06 366.22,457.1 367.48,456.27 368.74,456.14 370,455.63 371.26,455.46 372.52,454.94 373.78,454.03 374.7,453.9" fill="none" stroke="#52960c" stroke-width="3" stroke-linejoin="round" stroke-linecap="round"/>
<polyline points="55,418.15 56.26,417.86 57.52,417.47 58.78,417.09 60.04,416.76 61.3,416.13 62.56,414.67 63.82,414.78 65.08,414.66 66.34,414.62 67.6,414.25 68.86,413.89 70.12,414.32 71.38,414.33 72.64,414.27 73.9,414.52 75.16,414.06 76.42,413.87 77.68,414.34 78.94,414.76 80.2,414.47 81.46,415.22 82.72,415.63 83.98,415.26 85.24,415.76 86.5,415.99 87.76,415.96 89.02,415.89 90.28,416.1 91.54,416.79 92.8,417.16 94.06,417.19 95.32,417.19 96.58,418.17 97.84,418.41 99.1,418.18 100.36,418.74 101.62,419.28 102.88,419.52 104.14,419.45 105.4,419.34 106.66,419.25 107.92,418.69 109.18,418.5 110.44,418.3 111.7,418.73 112.96,418.51 114.22,418.78 115.48,418.72 116.74,418.91 118,418.67 119.26,418.68 120.52,419.65 121.78,419.2 123.04,419.06 124.3,419.56 125.56,419.44 126.82,418.61 128.08,418.73 129.34,418.09 130.6,417.84 131.86,416.98 133.12,418.83 134.38,421.59 135.64,423.39 136.9,422.77 138.16,422.24 139.42,421.37 140.68,419.71 141.94,416.61 143.2,414.3 144.46,409.77 145.72,404.4 146.98,399.11 148.24,393.38 149.5,388.54 150.76,384.03 152.02,377.86 153.28,368.6 154.54,359.43 155.8,351.59 157.06,349.23 158.32,348.86 159.58,349.32 160.84,349.64 162.1,349.23 163.36,350.06 164.62,350.23 165.88,350.92 167.14,352.78 168.4,353.26 169.66,354.64 170.92,355.82 172.18,356.48 173.44,355.98 174.7,355.49 175.96,355.53 177.22,356.13 178.48,357.72 179.74,358.6 181,357.04 182.26,355.93 183.52,355.17 184.78,354.45 186.04,356.2 187.3,357.46 188.56,358.66 189.82,359.21 191.08,360.26 192.34,359.55 193.6,358.84 194.86,358.72 196.12,358.3 197.38,358.79 198.64,359.75 199.9,360.35 201.16,360.59 202.42,360.73 203.68,361.47 204.94,362.1 206.2,361.13 207.46,360.62 208.72,359.84 209.98,359.01 211.24,358.61 212.5,357.62 213.76,357.49 215.02,357.32 216.28,357.71 217.54,357.03 218.8,357.57 220.06,357.02 221.32,356.79 222.58,357.5 223.84,356.78 225.1,357.86 226.36,358.53 227.62,359.29 228.88,359.35 230.14,360.37 231.4,360.04 232.66,359.96 233.92,359.05 235.18,358.02 236.44,357.61 237.7,357.82 238.96,358.56 240.22,358.56 241.48,359 242.74,358.87 244,359.25 245.26,359.1 246.52,359.69 247.78,359.55 249.04,359.18 250.3,359.83 251.56,359.29 252.82,359.29 254.08,358.73 255.34,358.5 256.6,358.69 257.86,357.91 259.12,357.43 260.38,357.21 261.64,356.12 262.9,355.71 264.16,355.23 265.42,356.46 266.68,356.08 267.94,357.29 269.2,357.54 270.46,357.58 271.72,358.27 272.98,358.55 274.24,358.43 275.5,357.55 276.76,356.87 278.02,356.61 279.28,355.79 280.54,354.9 281.8,353.33 283.06,353.24 284.32,354.03 285.58,353.52 286.84,354.37 288.1,354.23 289.36,355.09 290.62,354.47 291.88,355.43 293.14,355.59 294.4,356.05 295.66,356.56 296.92,357.95 298.18,357.66 299.44,355.8 300.7,354.47 301.96,353.72 303.22,353.33 304.48,353.89 305.74,353.73 307,354.72 308.26,357.3 309.52,359.3 310.78,360.88 312.04,363.46 313.3,366.59 314.56,370.19 315.82,373.22 317.08,376.15 318.34,377.07 319.6,378.38 320.86,379.42 322.12,380.46 323.38,381.21 324.64,381.81 325.9,382.77 327.16,384.47 328.42,385.27 329.68,386.65 330.94,387.15 332.2,388.93 333.46,389.16 334.72,390.08 335.98,390.56 337.24,390.68 338.5,390.71 339.76,391.97 341.02,391.6 342.28,391.65 343.54,390.79 344.8,390.41 346.06,390.68 347.32,389.95 348.58,389.65 349.84,389.94 351.1,390.25 352.36,389.83 353.62,390.4 354.88,390.44 356.14,390.62 357.4,390.37 358.66,391.01 359.92,390.74 361.18,389.03 362.44,386.84 363.7,387.19 364.96,386.89 366.22,387.23 367.48,386.61 368.74,387.34 370,387.41 371.26,387 372.52,387.01 373,387" fill="none" stroke="#a2155a" stroke-width="3" stroke-linejoin="round" stroke-linecap="round"/>
<line x1="129.3" y1="309.8" x2="129.3" y2="499" stroke="#000" stroke-width="2.6" stroke-dasharray="2.6 3.1"/>
<text x="129.6" y="302.9" font-size="15" font-family="Liberation Mono, monospace" fill="#111" text-anchor="middle">1</text>
<line x1="154.2" y1="309.8" x2="154.2" y2="499" stroke="#000" stroke-width="2.6" stroke-dasharray="2.6 3.1"/>
<text x="154.5" y="302.9" font-size="15" font-family="Liberation Mono, monospace" fill="#111" text-anchor="middle">2</text>
<line x1="306.2" y1="309.8" x2="306.2" y2="499" stroke="#000" stroke-width="2.6" stroke-dasharray="2.6 3.1"/>
<text x="306.5" y="302.9" font-size="15" font-family="Liberation Mono, monospace" fill="#111" text-anchor="middle">3</text>
<line x1="55" y1="309" x2="55" y2="499.8" stroke="#111" stroke-width="1.5"/>
<line x1="54.3" y1="499.2" x2="374.7" y2="499.2" stroke="#111" stroke-width="1.5"/>
<line x1="51.5" y1="474.1" x2="55" y2="474.1" stroke="#111" stroke-width="1.2"/>
<text x="50.4" y="477.69" font-size="10.4" fill="#2a2a2a" text-anchor="end">90</text>
<line x1="51.5" y1="436.2" x2="55" y2="436.2" stroke="#111" stroke-width="1.2"/>
<text x="50.4" y="439.79" font-size="10.4" fill="#2a2a2a" text-anchor="end">120</text>
<line x1="51.5" y1="398.3" x2="55" y2="398.3" stroke="#111" stroke-width="1.2"/>
<text x="50.4" y="401.89" font-size="10.4" fill="#2a2a2a" text-anchor="end">150</text>
<line x1="51.5" y1="360.4" x2="55" y2="360.4" stroke="#111" stroke-width="1.2"/>
<text x="50.4" y="363.99" font-size="10.4" fill="#2a2a2a" text-anchor="end">180</text>
<line x1="51.5" y1="322.5" x2="55" y2="322.5" stroke="#111" stroke-width="1.2"/>
<text x="50.4" y="326.09" font-size="10.4" fill="#2a2a2a" text-anchor="end">210</text>
<line x1="78.6" y1="499.2" x2="78.6" y2="502.4" stroke="#111" stroke-width="1.2"/>
<text x="78.6" y="513.99" font-size="10.4" fill="#2a2a2a" text-anchor="middle">10</text>
<line x1="103.85" y1="499.2" x2="103.85" y2="502.4" stroke="#111" stroke-width="1.2"/>
<text x="103.85" y="513.99" font-size="10.4" fill="#2a2a2a" text-anchor="middle">20</text>
<line x1="129.1" y1="499.2" x2="129.1" y2="502.4" stroke="#111" stroke-width="1.2"/>
<text x="129.1" y="513.99" font-size="10.4" fill="#2a2a2a" text-anchor="middle">30</text>
<line x1="154.35" y1="499.2" x2="154.35" y2="502.4" stroke="#111" stroke-width="1.2"/>
<text x="154.35" y="513.99" font-size="10.4" fill="#2a2a2a" text-anchor="middle">40</text>
<line x1="179.6" y1="499.2" x2="179.6" y2="502.4" stroke="#111" stroke-width="1.2"/>
<text x="179.6" y="513.99" font-size="10.4" fill="#2a2a2a" text-anchor="middle">50</text>
<line x1="204.85" y1="499.2" x2="204.85" y2="502.4" stroke="#111" stroke-width="1.2"/>
<text x="204.85" y="513.99" font-size="10.4" fill="#2a2a2a" text-anchor="middle">60</text>
<line x1="230.1" y1="499.2" x2="230.1" y2="502.4" stroke="#111" stroke-width="1.2"/>
<text x="230.1" y="513.99" font-size="10.4" fill="#2a2a2a" text-anchor="middle">70</text>
<line x1="255.35" y1="499.2" x2="255.35" y2="502.4" stroke="#111" stroke-width="1.2"/>
<text x="255.35" y="513.99" font-size="10.4" fill="#2a2a2a" text-anchor="middle">80</text>
<line x1="280.6" y1="499.2" x2="280.6" y2="502.4" stroke="#111" stroke-width="1.2"/>
<text x="280.6" y="513.99" font-size="10.4" fill="#2a2a2a" text-anchor="middle">90</text>
<line x1="305.85" y1="499.2" x2="305.85" y2="502.4" stroke="#111" stroke-width="1.2"/>
<text x="305.85" y="513.99" font-size="10.4" fill="#2a2a2a" text-anchor="middle">100</text>
<line x1="331.1" y1="499.2" x2="331.1" y2="502.4" stroke="#111" stroke-width="1.2"/>
<text x="331.1" y="513.99" font-size="10.4" fill="#2a2a2a" text-anchor="middle">110</text>
<line x1="356.35" y1="499.2" x2="356.35" y2="502.4" stroke="#111" stroke-width="1.2"/>
<text x="356.35" y="513.99" font-size="10.4" fill="#2a2a2a" text-anchor="middle">120</text>
<line x1="61.5" y1="320.8" x2="71.6" y2="320.8" stroke="#52960c" stroke-width="3.4" stroke-linecap="round"/>
<line x1="61.5" y1="339.9" x2="71.6" y2="339.9" stroke="#a2155a" stroke-width="3.4" stroke-linecap="round"/>
<text x="77.9" y="324.01" font-size="9.3" fill="#222" text-anchor="start" textLength="27.9" lengthAdjust="spacingAndGlyphs">TCS ON</text>
<text x="77.9" y="343.11" font-size="9.3" fill="#222" text-anchor="start" textLength="31.3" lengthAdjust="spacingAndGlyphs">TCS OFF</text>
<text x="1.8" y="299.1" font-size="18" font-weight="bold" fill="#000">(C)</text>
<text transform="translate(27.3,402.2) scale(1,1) rotate(-90)" font-size="10.8" fill="#2a2a2a" text-anchor="middle" textLength="64.5" lengthAdjust="spacingAndGlyphs">SBP (mmHg)</text>
<text x="214.9" y="528.96" font-size="10.6" fill="#2a2a2a" text-anchor="middle" textLength="35.8" lengthAdjust="spacingAndGlyphs">Time (s)</text>
<path d="M55.02 689.77V728.29M57.53 687.98V730.56M60.05 689.48V727.24M62.57 689.48V727.84M65.08 693.33V727.12M67.6 690.58V730.48M70.12 691.59V727.64M72.64 694.01V730.5M75.15 694.22V731.37M77.67 692.85V732.43M80.19 696.2V728.93M82.7 693.47V731.22M85.22 695.2V730.47M87.74 693.46V731.29M90.25 693.53V732.38M92.77 696.86V730.57M95.29 695.54V733.56M97.81 693.66V734.16M100.32 697.31V732.39M102.84 695.66V734.69M105.36 696.87V732.89M107.87 699.51V734.88M110.39 697.47V732.59M112.91 698.18V733.39M115.42 701.89V734.98M117.94 702.3V734.93M120.46 702.81V731.33M122.98 702.48V735.39M125.49 705.58V732.03M128.01 704.41V733.69M130.53 704.7V732.77M133.04 701.53V730.56M135.56 701.72V726.9M138.08 698.23V729.51M140.59 699.46V727.55M143.11 697.46V725M145.63 697.28V723.38M148.15 692.04V720.3M150.66 691.88V719.02M153.18 691.01V718.39M155.7 693.1V718.76M158.21 689.1V718.29M160.73 689.06V720.41M163.25 687.6V717.89M165.76 688.46V717.49M168.28 687.42V721.79M170.8 686.26V719.08M173.32 685.25V720.75M175.83 683V719.32M178.35 682.12V720.55M180.87 682.84V720.95M183.38 682.02V720.39M185.9 683.34V724.21M188.42 683.55V723.34M190.94 683.66V722M193.45 683.86V723.56M195.97 683.04V724.62M198.49 682.6V723.59M201 681.48V723.54M203.52 682.65V724.65M206.04 682.91V723.27M208.55 681.77V727.45M211.07 681.68V726.32M213.59 683.98V725.34M216.1 687.39V725.66M218.62 687.53V725.3M221.14 684.91V728.85M223.66 686.62V725.4M226.17 686.38V727.41M228.69 687.98V726.16M231.21 685.64V730.25M233.72 688V726.62M236.24 686.67V727.61M238.76 689.28V728.9M241.28 691.15V729.92M243.79 690.67V729.61M246.31 692.77V729.78M248.83 692.59V729.98M251.34 694.16V730.65M253.86 691.49V730.52M256.38 690.92V730.11M258.89 693.59V728.96M261.41 695.33V729.39M263.93 692.82V730.48M266.44 694.91V729.78M268.96 692.65V729.18M271.48 693.01V730.54M274 692.25V729.13M276.51 693.45V729.21M279.03 692.38V731.18M281.55 694.81V729.97M284.06 692.94V728.63M286.58 692.3V728.56M289.1 693.55V730.68M291.62 691.3V732.36M294.13 692.39V732.12M296.65 694.76V732.76M299.17 691.84V730.42M301.68 694.52V728.78M304.2 689.7V731.67M306.72 690.92V733.64M309.23 693.49V732.22M311.75 698.04V732.47M314.27 699.35V733.58M316.78 699.79V732.41M319.3 700.74V732.72M321.82 702.36V734.52M324.34 700.42V732.16M326.85 699.72V733.84M329.37 700.58V734.93M331.89 702.05V737.02M334.4 700.24V734.91M336.92 700.87V737.76M339.44 699.58V735.91M341.95 703.86V734.55M344.47 704.29V738.56M346.99 703.98V736.71M349.51 696.61V738.76M352.02 698.47V738.4M354.54 699.86V738.61M357.06 697.24V735.14M359.57 696.63V736.68M362.09 697.62V735.09M364.61 696.14V737.03M367.12 695.23V735.65M369.64 693.66V736.86M372.16 685.92V735.73" stroke="#88bd5a" stroke-width="1.3" fill="none" opacity="1"/>
<path d="M55.02 657.03V690.41M57.53 656.62V689.02M60.05 654.87V692.87M62.57 656.2V692.07M65.08 654.43V691.29M67.6 656.1V690.22M70.12 656.56V691.44M72.64 658.2V691.64M75.15 655.54V689.56M77.67 654.39V692.49M80.19 654.21V689.46M82.7 654.84V691.4M85.22 658.17V691.82M87.74 658.42V689.29M90.25 655.09V692.54M92.77 656.85V692.29M95.29 657.32V689.78M97.81 657.24V689.46M100.32 660.46V691.68M102.84 657.9V691.08M105.36 658.07V689.27M107.87 660.4V691.7M110.39 660.71V691.05M112.91 659.15V690.19M115.42 656.5V693.33M117.94 660.23V690.5M120.46 660.43V692.82M122.98 657.7V691.84M125.49 660.72V691.36M128.01 660.67V690.2M130.53 658.35V692.4M133.04 658.8V689.82M135.56 663.03V688.92M138.08 664.25V686.12M140.59 660.23V683.22M143.11 648.56V677.03M145.63 638.21V667.26M148.15 629.3V662.66M150.66 622.2V653.7M153.18 611.73V633.22M155.7 599.63V630.05M158.21 588.32V631.43M160.73 590.1V632.77M163.25 588.96V635.87M165.76 590.78V634.32M168.28 593.82V634.03M170.8 593.17V637.44M173.32 593.88V635.64M175.83 597.82V637.3M178.35 594.03V635.22M180.87 595.94V635.59M183.38 596.34V635.57M185.9 596.28V637.69M188.42 594.08V638.21M190.94 594.77V640.13M193.45 596.5V642.14M195.97 598.35V641.08M198.49 595.88V643.57M201 594.82V645.08M203.52 593.5V642.09M206.04 595.02V639.64M208.55 596.38V638.84M211.07 596.15V638.91M213.59 594.86V638.09M216.1 594.13V637.11M218.62 597.95V637.78M221.14 597.25V636.8M223.66 596.79V638.69M226.17 596.5V639.49M228.69 594.5V640.66M231.21 595.24V639.41M233.72 597.5V638.12M236.24 596.06V638.99M238.76 597.76V636.85M241.28 598.16V632.39M243.79 595.47V631.88M246.31 597.33V634.76M248.83 595.82V633.57M251.34 597.84V634.85M253.86 597.08V635.49M256.38 598.69V634.45M258.89 598.63V632.05M261.41 601.98V634.86M263.93 601.05V631.63M266.44 597.95V632.15M268.96 598.66V632.76M271.48 599.49V631.51M274 599.16V634.23M276.51 598.54V635.11M279.03 600.33V634.51M281.55 598.87V633.18M284.06 600.85V632.74M286.58 597.7V634.94M289.1 601.27V632.38M291.62 597.9V634.95M294.13 600.49V631.21M296.65 598.82V631.46M299.17 601.34V631.88M301.68 595.17V635.26M304.2 591.83V636.36M306.72 595.23V638.26M309.23 599.21V637.9M311.75 599.22V642.75M314.27 604.78V644.46M316.78 609.43V647.31M319.3 613.24V651.33M321.82 614.35V653.22M324.34 618.19V655.39M326.85 621.69V657.81M329.37 624.85V657.17M331.89 625.7V659.05M334.4 629.21V659.83M336.92 628.01V665.91M339.44 628.43V666.77M341.95 626.65V665.61M344.47 627.15V667.8M346.99 626.43V667.9M349.51 626.13V670.29M352.02 625.71V668.7M354.54 620.17V670.54M357.06 620.45V673.04M359.57 620.02V670.68M362.09 622.47V669.43M364.61 620.99V669.55M367.12 622.15V669.78M369.64 621.9V667.29M372.16 621.47V668.55" stroke="#c06693" stroke-width="1.3" fill="none" opacity="1" style="mix-blend-mode:multiply"/>
<polyline points="54,708.27 55.26,708.85 56.52,709.22 57.78,708.88 59.04,709.35 60.3,709.72 61.56,709.89 62.82,710.07 64.08,710.58 65.34,710.8 66.6,711.51 67.86,711.55 69.12,711.51 70.38,711.96 71.64,712.36 72.9,712.52 74.16,712.61 75.42,712.79 76.68,712.99 77.94,714.05 79.2,713.98 80.46,713.52 81.72,714.24 82.98,714.62 84.24,714.39 85.5,714.13 86.76,714.62 88.02,714.71 89.28,714.64 90.54,715.09 91.8,714.74 93.06,715.68 94.32,715.56 95.58,715.67 96.84,716.08 98.1,715.95 99.36,715.71 100.62,715.83 101.88,715.86 103.14,715.89 104.4,716.67 105.66,716.8 106.92,716.38 108.18,716.35 109.44,716.82 110.7,717.08 111.96,717.22 113.22,716.6 114.48,717.23 115.74,717.39 117,717.48 118.26,717.27 119.52,717.31 120.78,718.05 122.04,717.76 123.3,717.97 124.56,718.3 125.82,718.3 127.08,718.88 128.34,718.41 129.6,718.01 130.86,718.27 132.12,718.11 133.38,718.07 134.64,717.75 135.9,717.36 137.16,716.69 138.42,715.58 139.68,714.88 140.94,713.86 142.2,713.28 143.46,712.83 144.72,711.67 145.98,711.51 147.24,710.32 148.5,709.68 149.76,708.96 151.02,706.98 152.28,705.75 153.54,704.92 154.8,703.51 156.06,703.8 157.32,703.15 158.58,703.91 159.84,703.92 161.1,703.86 162.36,703.53 163.62,703.4 164.88,703.75 166.14,703.61 167.4,703.53 168.66,703.45 169.92,703.54 171.18,703.79 172.44,703.98 173.7,704.09 174.96,703.47 176.22,703.63 177.48,703.81 178.74,703.96 180,703.81 181.26,703.72 182.52,703.66 183.78,703.92 185.04,704.09 186.3,704.59 187.56,704.58 188.82,704.59 190.08,704.72 191.34,704.66 192.6,704.3 193.86,704.43 195.12,703.7 196.38,704.2 197.64,704.09 198.9,703.76 200.16,704.07 201.42,705.22 202.68,705.6 203.94,706.55 205.2,706.89 206.46,706.75 207.72,707.07 208.98,706.12 210.24,706.09 211.5,706.35 212.76,705.97 214.02,705.46 215.28,705.71 216.54,704.87 217.8,704.47 219.06,705.18 220.32,706.41 221.58,707.58 222.84,707.78 224.1,707.49 225.36,707.51 226.62,708.11 227.88,707.76 229.14,707.33 230.4,707.97 231.66,707.38 232.92,707.2 234.18,707.55 235.44,707.37 236.7,707.85 237.96,708.17 239.22,708.14 240.48,708.72 241.74,708.57 243,709.19 244.26,709.52 245.52,709.38 246.78,710.05 248.04,710.13 249.3,710.84 250.56,711.39 251.82,711.01 253.08,711.06 254.34,711.01 255.6,710.33 256.86,711.03 258.12,710.69 259.38,710.04 260.64,710.6 261.9,710.11 263.16,710.14 264.42,711.1 265.68,710.99 266.94,711.44 268.2,711.11 269.46,711.94 270.72,711.55 271.98,711.96 273.24,712.33 274.5,712.26 275.76,713.04 277.02,712.95 278.28,713.28 279.54,713.89 280.8,713.66 282.06,713.96 283.32,713.61 284.58,713.72 285.84,713.33 287.1,713.54 288.36,713.38 289.62,712.64 290.88,713.04 292.14,712.56 293.4,712.83 294.66,712.64 295.92,712.66 297.18,711.91 298.44,712.03 299.7,712.24 300.96,712.19 302.22,711.7 303.48,710.81 304.74,711.03 306,710.29 307.26,710.41 308.52,710.71 309.78,710.65 311.04,711.95 312.3,712.49 313.56,713.5 314.82,714.83 316.08,716.37 317.34,716.93 318.6,716.91 319.86,716.7 321.12,716.82 322.38,717.11 323.64,717.94 324.9,717.6 326.16,718.09 327.42,718 328.68,718.51 329.94,718.39 331.2,718.32 332.46,719.13 333.72,718.98 334.98,719.27 336.24,719.27 337.5,719.28 338.76,718.32 340.02,718.51 341.28,718.22 342.54,718.42 343.8,718.64 345.06,718.52 346.32,718.97 347.58,719.4 348.84,719.29 350.1,718.49 351.36,717.55 352.62,717.33 353.88,717.16 355.14,717.89 356.4,717.6 357.66,718.15 358.92,718.02 360.18,717.65 361.44,718 362.7,717.33 363.96,716.82 365.22,715.44 366.48,713.83 367.74,712.83 369,712.47 370.26,712.19 371.52,711.91 372.78,711.37 373,711.4" fill="none" stroke="#52960c" stroke-width="3" stroke-linejoin="round" stroke-linecap="round"/>
<polyline points="54,675.77 55.26,674.54 56.52,674.14 57.78,673.01 59.04,672.17 60.3,672.09 61.56,672.08 62.82,670.76 64.08,670.69 65.34,671.05 66.6,670.59 67.86,670.48 69.12,670.58 70.38,670.32 71.64,670.7 72.9,670.77 74.16,671.27 75.42,671.41 76.68,670.65 77.94,671.61 79.2,672.41 80.46,673.11 81.72,673.63 82.98,674.11 84.24,674.07 85.5,673.77 86.76,673.64 88.02,674.04 89.28,674.06 90.54,674.06 91.8,673.77 93.06,673.76 94.32,674.57 95.58,674.95 96.84,675.14 98.1,675.66 99.36,675.89 100.62,676.55 101.88,676.9 103.14,677.07 104.4,677.57 105.66,677.28 106.92,677.61 108.18,676.88 109.44,676.5 110.7,676.19 111.96,676.03 113.22,675.98 114.48,675.63 115.74,675.75 117,677.03 118.26,677.16 119.52,677.29 120.78,677.03 122.04,676.41 123.3,675.91 124.56,675.47 125.82,675.37 127.08,675.06 128.34,675.25 129.6,675.29 130.86,676.55 132.12,677.28 133.38,679.06 134.64,677.94 135.9,676.22 137.16,675.05 138.42,674.15 139.68,671.64 140.94,666.82 142.2,662.94 143.46,658.37 144.72,654.88 145.98,651.01 147.24,648.24 148.5,644.58 149.76,639.01 151.02,633.99 152.28,626.18 153.54,617.11 154.8,611.19 156.06,609.19 157.32,608.91 158.58,609.24 159.84,609.22 161.1,609.74 162.36,610.13 163.62,610.44 164.88,611.01 166.14,612.47 167.4,613.66 168.66,614.32 169.92,614.83 171.18,616.46 172.44,616.7 173.7,616.37 174.96,616.35 176.22,616.56 177.48,617.03 178.74,617.24 180,616.47 181.26,616.17 182.52,614.97 183.78,614.61 185.04,615.97 186.3,616.86 187.56,617.62 188.82,618.84 190.08,618.83 191.34,618.67 192.6,619.08 193.86,618.85 195.12,619.46 196.38,619.29 197.64,619.53 198.9,619.72 200.16,619.51 201.42,619.79 202.68,619.47 203.94,620.39 205.2,620.16 206.46,620.19 207.72,619 208.98,619.15 210.24,618.9 211.5,618.2 212.76,617.63 214.02,617.34 215.28,617.22 216.54,617.71 217.8,617.03 219.06,617.61 220.32,617.19 221.58,617.22 222.84,617.19 224.1,617.63 225.36,618.32 226.62,618.87 227.88,619.22 229.14,620.19 230.4,619.43 231.66,619.27 232.92,618.75 234.18,618.2 235.44,617.21 236.7,617.06 237.96,617 239.22,616.69 240.48,616.69 241.74,617.06 243,617.6 244.26,617.03 245.52,617.07 246.78,617.65 248.04,617.97 249.3,618.23 250.56,618.02 251.82,618.73 253.08,617.52 254.34,617.46 255.6,616.33 256.86,615.74 258.12,615.31 259.38,614.71 260.64,614.57 261.9,614.09 263.16,614.23 264.42,615.47 265.68,615.52 266.94,615.88 268.2,616.47 269.46,617.54 270.72,618.26 271.98,618.14 273.24,618.29 274.5,617.99 275.76,616.54 277.02,616.23 278.28,614.83 279.54,613.98 280.8,613.46 282.06,614.02 283.32,613.86 284.58,613.89 285.84,614.56 287.1,614 288.36,614.71 289.62,614.26 290.88,614.97 292.14,614.95 293.4,615.56 294.66,615.04 295.92,615.69 297.18,615.57 298.44,615 299.7,613.99 300.96,612.67 302.22,611.68 303.48,613.03 304.74,614.36 306,615.84 307.26,616.98 308.52,618.08 309.78,619.43 311.04,620.18 312.3,621.25 313.56,624.97 314.82,627.35 316.08,630.67 317.34,632 318.6,634.34 319.86,636.04 321.12,636.43 322.38,637.7 323.64,638.6 324.9,638.95 326.16,639.83 327.42,640.8 328.68,641.93 329.94,641.99 331.2,643.16 332.46,643.8 333.72,644.38 334.98,645.2 336.24,646.12 337.5,645.89 338.76,646.87 340.02,646.78 341.28,647.54 342.54,647.99 343.8,647.75 345.06,648.71 346.32,648.45 347.58,647.44 348.84,646.82 350.1,646.52 351.36,646.92 352.62,645.95 353.88,646.93 355.14,646.43 356.4,647.13 357.66,647 358.92,647.76 360.18,646.61 361.44,644.32 362.7,643.8 363.96,644.39 365.22,644.29 366.48,644.51 367.74,644.68 369,643.9 370.26,644.16 371.52,644.73 372,644.5" fill="none" stroke="#a2155a" stroke-width="3" stroke-linejoin="round" stroke-linecap="round"/>
<line x1="129.4" y1="565.9" x2="129.4" y2="756" stroke="#000" stroke-width="2.6" stroke-dasharray="2.6 3.1"/>
<text x="129.7" y="559" font-size="15" font-family="Liberation Mono, monospace" fill="#111" text-anchor="middle">1</text>
<line x1="154.1" y1="565.9" x2="154.1" y2="756" stroke="#000" stroke-width="2.6" stroke-dasharray="2.6 3.1"/>
<text x="154.4" y="559" font-size="15" font-family="Liberation Mono, monospace" fill="#111" text-anchor="middle">2</text>
<line x1="304.6" y1="565.9" x2="304.6" y2="756" stroke="#000" stroke-width="2.6" stroke-dasharray="2.6 3.1"/>
<text x="304.9" y="559" font-size="15" font-family="Liberation Mono, monospace" fill="#111" text-anchor="middle">3</text>
<line x1="53.5" y1="569" x2="53.5" y2="759.3" stroke="#111" stroke-width="1.5"/>
<line x1="52.8" y1="758.7" x2="375" y2="758.7" stroke="#111" stroke-width="1.5"/>
<line x1="50" y1="724.52" x2="53.5" y2="724.52" stroke="#111" stroke-width="1.2"/>
<text x="48.9" y="728.11" font-size="10.4" fill="#2a2a2a" text-anchor="end">60</text>
<line x1="50" y1="672.68" x2="53.5" y2="672.68" stroke="#111" stroke-width="1.2"/>
<text x="48.9" y="676.27" font-size="10.4" fill="#2a2a2a" text-anchor="end">90</text>
<line x1="50" y1="620.84" x2="53.5" y2="620.84" stroke="#111" stroke-width="1.2"/>
<text x="48.9" y="624.43" font-size="10.4" fill="#2a2a2a" text-anchor="end">120</text>
<line x1="50" y1="569" x2="53.5" y2="569" stroke="#111" stroke-width="1.2"/>
<text x="48.9" y="572.59" font-size="10.4" fill="#2a2a2a" text-anchor="end">150</text>
<line x1="77.67" y1="758.7" x2="77.67" y2="761.9" stroke="#111" stroke-width="1.2"/>
<text x="77.67" y="773.89" font-size="10.4" fill="#2a2a2a" text-anchor="middle">10</text>
<line x1="102.84" y1="758.7" x2="102.84" y2="761.9" stroke="#111" stroke-width="1.2"/>
<text x="102.84" y="773.89" font-size="10.4" fill="#2a2a2a" text-anchor="middle">20</text>
<line x1="128.01" y1="758.7" x2="128.01" y2="761.9" stroke="#111" stroke-width="1.2"/>
<text x="128.01" y="773.89" font-size="10.4" fill="#2a2a2a" text-anchor="middle">30</text>
<line x1="153.18" y1="758.7" x2="153.18" y2="761.9" stroke="#111" stroke-width="1.2"/>
<text x="153.18" y="773.89" font-size="10.4" fill="#2a2a2a" text-anchor="middle">40</text>
<line x1="178.35" y1="758.7" x2="178.35" y2="761.9" stroke="#111" stroke-width="1.2"/>
<text x="178.35" y="773.89" font-size="10.4" fill="#2a2a2a" text-anchor="middle">50</text>
<line x1="203.52" y1="758.7" x2="203.52" y2="761.9" stroke="#111" stroke-width="1.2"/>
<text x="203.52" y="773.89" font-size="10.4" fill="#2a2a2a" text-anchor="middle">60</text>
<line x1="228.69" y1="758.7" x2="228.69" y2="761.9" stroke="#111" stroke-width="1.2"/>
<text x="228.69" y="773.89" font-size="10.4" fill="#2a2a2a" text-anchor="middle">70</text>
<line x1="253.86" y1="758.7" x2="253.86" y2="761.9" stroke="#111" stroke-width="1.2"/>
<text x="253.86" y="773.89" font-size="10.4" fill="#2a2a2a" text-anchor="middle">80</text>
<line x1="279.03" y1="758.7" x2="279.03" y2="761.9" stroke="#111" stroke-width="1.2"/>
<text x="279.03" y="773.89" font-size="10.4" fill="#2a2a2a" text-anchor="middle">90</text>
<line x1="304.2" y1="758.7" x2="304.2" y2="761.9" stroke="#111" stroke-width="1.2"/>
<text x="304.2" y="773.89" font-size="10.4" fill="#2a2a2a" text-anchor="middle">100</text>
<line x1="329.37" y1="758.7" x2="329.37" y2="761.9" stroke="#111" stroke-width="1.2"/>
<text x="329.37" y="773.89" font-size="10.4" fill="#2a2a2a" text-anchor="middle">110</text>
<line x1="354.54" y1="758.7" x2="354.54" y2="761.9" stroke="#111" stroke-width="1.2"/>
<text x="354.54" y="773.89" font-size="10.4" fill="#2a2a2a" text-anchor="middle">120</text>
<line x1="60.5" y1="577.5" x2="70.4" y2="577.5" stroke="#52960c" stroke-width="3.4" stroke-linecap="round"/>
<line x1="60.5" y1="593.2" x2="70.4" y2="593.2" stroke="#a2155a" stroke-width="3.4" stroke-linecap="round"/>
<text x="76.3" y="580.71" font-size="9.3" fill="#222" text-anchor="start" textLength="27.9" lengthAdjust="spacingAndGlyphs">TCS ON</text>
<text x="76.3" y="596.41" font-size="9.3" fill="#222" text-anchor="start" textLength="31.3" lengthAdjust="spacingAndGlyphs">TCS OFF</text>
<text x="4.5" y="560.7" font-size="18" font-weight="bold" fill="#000">(E)</text>
<text transform="translate(28.4,662) scale(1,1) rotate(-90)" font-size="10.8" fill="#2a2a2a" text-anchor="middle" textLength="66.5" lengthAdjust="spacingAndGlyphs">DBP (mmHg)</text>
<text x="213.5" y="788.56" font-size="10.6" font-weight="bold" fill="#2a2a2a" text-anchor="middle" textLength="37.5" lengthAdjust="spacingAndGlyphs">Time (s)</text>
<path d="M58.99 866.77V934.07M61.53 866.05V934.97M64.07 865.84V934.38M66.61 864.08V938.46M69.15 865.58V937.94M71.69 864.81V936.14M74.23 865.01V935.87M76.77 865.33V937.05M79.31 865.32V937.3M81.85 867.07V934.42M84.39 866.53V936.18M86.93 869.26V935.51M89.47 866.15V938.35M92.01 869.35V937.26M94.55 866.68V934.72M97.09 866.77V934.22M99.63 865.88V936.24M102.17 867.69V934.31M104.71 867.62V929.29M107.25 869.25V929.73M109.79 868.72V926.73M112.33 869.53V928.52M114.87 870.51V927.3M117.41 868.47V925.46M119.95 868.69V928.48M122.49 868.68V925.77M125.03 868.92V924.66M127.57 871.76V924.02M130.11 870.08V928.27M132.65 868.13V926.93M135.19 868.36V925.35M137.73 867.21V924.9M140.27 869.88V928.09M142.81 870.18V924.83M145.35 869.19V926.19M147.89 868.97V927.23M150.43 867.45V929.17M152.97 866V928.13M155.51 869.93V927.44M158.05 868.72V931.65M160.59 867.13V931.96M163.13 869.71V932.78M165.67 869.8V934.31M168.21 869.18V935.32M170.75 870.11V933.98M173.29 870.12V935M175.83 868.49V935.32M178.37 868.92V936.68M180.91 870.11V935.56M183.45 870.57V933.69M185.99 869.42V931.42M188.53 872.9V932.46M191.07 871.28V931.72M193.61 872.85V929.65M196.15 870.14V931.6M198.69 871.7V930.03M201.23 873.65V931.13M203.77 874.14V927.88M206.31 872.21V932.17M208.85 874.52V929.57M211.39 871.77V930.82M213.93 871.84V931.96M216.47 875.37V933.38M219.01 874.06V932.05M221.55 874.11V936.89M224.09 875.79V935.03M226.63 873.04V937.3M229.17 871.44V934.97M231.71 870.1V936.19M234.25 869.33V935.59M236.79 868.61V936.06M239.33 868.62V934.58M241.87 867.75V937.12M244.41 867.06V935.32M246.95 870.06V935.76M249.49 868.21V935.61M252.03 870.52V934.92M254.57 869.58V938.45M257.11 867.54V936.45M259.65 870.22V937.34M262.19 868.25V934.7M264.73 868.54V936.19M267.27 869.75V935.86M269.81 868.31V937.48M272.35 870.12V936.12M274.89 868.13V937.16M277.43 870.58V935.38M279.97 870.75V937.77M282.51 867.96V937.56M285.05 867.73V934.83M287.59 869.66V936.25M290.13 868.56V936.78M292.67 870.25V937.98M295.21 866.19V937.23M297.75 868.16V936.63M300.29 869.86V936.41M302.83 868.18V938.6M305.37 868.02V935.76M307.91 868.35V930.44M310.45 869.08V924.41M312.99 867.85V921.19M315.53 869.13V923.55M318.07 869.54V924.54M320.61 866.54V922.6M323.15 866.35V927.78M325.69 866.47V926.87M328.23 869.47V931.5M330.77 866.25V933.73M333.31 869.27V932.82M335.85 866.25V933.78M338.39 867.92V933.29M340.93 870.59V934.36M343.47 870.01V931.27M346.01 867.54V932.98M348.55 866.03V935.15M351.09 867.26V931.81M353.63 867.44V931.77M356.17 869.95V933.16M358.71 868.35V932.53M361.25 868.91V932M363.79 878.1V934.29M366.33 878.93V931.78M368.87 872.65V930.84M371.41 870.93V932.32M373.95 869.28V932.85M376.49 869.11V932.28" stroke="#88bd5a" stroke-width="1.3" fill="none" opacity="1"/>
<path d="M58.24 905.09V973.46M60.78 905.65V976.22M63.32 901.67V976.22M65.86 903.91V977.77M68.4 904.07V978.49M70.94 902.75V981.41M73.48 902.84V981.13M76.02 905.21V980.7M78.56 903.63V982.4M81.1 903.6V982.26M83.64 901.83V980.33M86.18 904.52V978.68M88.72 905.57V978.9M91.26 904.36V979.52M93.8 905.87V981.39M96.34 905.33V981.22M98.88 904.76V982.15M101.42 903.03V979.67M103.96 905.55V978.66M106.5 906.67V978.23M109.04 904.18V977.01M111.58 907.78V980.23M114.12 906.05V978.18M116.66 905.29V978.82M119.2 907.22V975M121.74 904.29V977.11M124.28 904.19V977.39M126.82 905.31V974.24M129.36 906.6V974.26M131.9 906.47V969.15M134.44 908.05V964.25M136.98 907.68V962.2M139.52 907.46V966.01M142.06 905.54V961.65M144.6 905.45V964.45M147.14 915.43V964.01M149.68 927.53V963.64M152.22 934.55V970.76M154.76 937.18V977.64M157.3 940.72V986.01M159.84 941.95V998.36M162.38 942.02V996.72M164.92 939.04V995.9M167.46 941.15V996.58M170 939.51V994.73M172.54 934.33V998.27M175.08 931.72V996.79M177.62 926.24V994.94M180.16 924.1V998.41M182.7 925.92V995.35M185.24 925.48V994.45M187.78 923.16V998.75M190.32 921.18V998.64M192.86 921.8V994.53M195.4 919.5V996.37M197.94 918.3V997.71M200.48 917.17V998.11M203.02 916.91V995.77M205.56 917.29V996.85M208.1 916.45V1001M210.64 916.01V1000.21M213.18 913.33V1000.4M215.72 913.52V1000.96M218.26 913.58V1000.59M220.8 914.49V999.61M223.34 915.82V998.59M225.88 913.45V1002.11M228.42 914.09V1001.61M230.96 916.48V999.89M233.5 913.05V998.06M236.04 916.3V998.12M238.58 914.44V999.99M241.12 912.6V999.63M243.66 912.71V999.89M246.2 914.18V999.06M248.74 912.66V999.18M251.28 912.58V997.86M253.82 912.65V1001.23M256.36 913.75V1001.27M258.9 911.41V1001.46M261.44 913.83V1000.71M263.98 914.7V1000.19M266.52 913.63V1000.42M269.06 913.77V998.13M271.6 913.7V998.68M274.14 916.44V998.16M276.68 918.65V997.15M279.22 917.71V997.79M281.76 917.94V1000.27M284.3 918.47V996.9M286.84 916.33V999.32M289.38 919.72V996.7M291.92 918.04V999.64M294.46 918.95V997.98M297 918.93V998.48M299.54 919.44V996.36M302.08 919.53V998.15M304.62 917.07V996.61M307.16 911.32V989.55M309.7 907.42V975.09M312.24 905.12V973.65M314.78 904.38V974.01M317.32 904.92V977.49M319.86 907.91V976.64M322.4 905.46V973.92M324.94 906.77V974.36M327.48 906.57V971.66M330.02 903.96V970.18M332.56 906.86V970.92M335.1 903.32V970.6M337.64 904.43V968.05M340.18 907.2V970.39M342.72 906.12V967.92M345.26 906.43V971.61M347.8 906.71V970.73M350.34 906.3V970.99M352.88 905.12V969.3M355.42 906.13V970.91M357.96 906.27V968.68M360.5 906.61V969.75M363.04 906.47V967.83M365.58 906.5V970.92M368.12 903.14V971.16M370.66 902.97V968.21M373.2 903.94V968.39M375.74 904.03V971.48" stroke="#c06693" stroke-width="1.3" fill="none" opacity="1" style="mix-blend-mode:multiply"/>
<polyline points="57,902.47 58.26,902.51 59.52,902.24 60.78,902.6 62.04,902.63 63.3,902.55 64.56,902.8 65.82,902.71 67.08,902.35 68.34,902.08 69.6,902.6 70.86,902.78 72.12,902.35 73.38,902.6 74.64,902.83 75.9,902.81 77.16,902.12 78.42,902.57 79.68,902.16 80.94,902.28 82.2,902.96 83.46,902.65 84.72,902.86 85.98,902.77 87.24,902.7 88.5,902.64 89.76,902.81 91.02,903.29 92.28,903.13 93.54,902.88 94.8,902.74 96.06,902.95 97.32,903.38 98.58,903.19 99.84,903.43 101.1,903.61 102.36,903.04 103.62,904.06 104.88,904.49 106.14,905.87 107.4,903.28 108.66,901.34 109.92,899.94 111.18,899.8 112.44,900.23 113.7,901.38 114.96,901.68 116.22,900.21 117.48,897.95 118.74,897.97 120,899.51 121.26,900.24 122.52,901.11 123.78,899.84 125.04,899.86 126.3,898.7 127.56,898.33 128.82,896.98 130.08,896.25 131.34,896.6 132.6,897.26 133.86,898.68 135.12,899.61 136.38,902.96 137.64,903.02 138.9,903.72 140.16,904.3 141.42,904.28 142.68,903.63 143.94,902.89 145.2,901.63 146.46,900.65 147.72,900.12 148.98,900.61 150.24,900.45 151.5,900.91 152.76,900.38 154.02,900.65 155.28,900.62 156.54,900.39 157.8,900.52 159.06,900.66 160.32,900.9 161.58,900.65 162.84,900.65 164.1,901.32 165.36,900.61 166.62,901.43 167.88,901.41 169.14,901.42 170.4,901.44 171.66,901.83 172.92,902.08 174.18,902.05 175.44,902.19 176.7,901.67 177.96,902.05 179.22,902 180.48,902.85 181.74,902.89 183,902.32 184.26,902.82 185.52,902.91 186.78,902.53 188.04,902.95 189.3,903.37 190.56,903.37 191.82,903.15 193.08,903.68 194.34,903.36 195.6,903.69 196.86,903.68 198.12,904.28 199.38,904.08 200.64,901.41 201.9,901.66 203.16,901.76 204.42,902.65 205.68,902.79 206.94,903.14 208.2,903.13 209.46,903.39 210.72,904.13 211.98,904.72 213.24,905.05 214.5,905.02 215.76,905.17 217.02,905.82 218.28,906.46 219.54,906.13 220.8,906.96 222.06,906.77 223.32,907.21 224.58,907.29 225.84,907.11 227.1,906.41 228.36,906.17 229.62,905.4 230.88,903.93 232.14,903.27 233.4,903.08 234.66,901.64 235.92,901.62 237.18,901.83 238.44,901.65 239.7,901.89 240.96,902.12 242.22,902.22 243.48,902.85 244.74,902.33 246,902.39 247.26,903.13 248.52,902.83 249.78,903.28 251.04,902.89 252.3,902.73 253.56,902.02 254.82,901.59 256.08,901.85 257.34,901.31 258.6,901.1 259.86,900.91 261.12,900.94 262.38,902.78 263.64,905.13 264.9,906.11 266.16,905.53 267.42,905.09 268.68,905.17 269.94,904.61 271.2,904.84 272.46,903.95 273.72,904.43 274.98,903.97 276.24,903.55 277.5,903.85 278.76,903.01 280.02,902.77 281.28,902.53 282.54,902.88 283.8,902.98 285.06,902.83 286.32,902.51 287.58,902.78 288.84,902.08 290.1,902.17 291.36,902.39 292.62,902.6 293.88,902.22 295.14,902.19 296.4,902.18 297.66,901.76 298.92,902.17 300.18,901.89 301.44,901.37 302.7,901.24 303.96,901.45 305.22,900.87 306.48,900.55 307.74,901 309,900.53 310.26,899.72 311.52,899.06 312.78,899.77 314.04,900.39 315.3,901.88 316.56,902.94 317.82,904.56 319.08,905.95 320.34,907.15 321.6,906.74 322.86,906.42 324.12,906.02 325.38,905.93 326.64,905.41 327.9,905.68 329.16,905.39 330.42,905.19 331.68,904.33 332.94,904.55 334.2,904.38 335.46,903.68 336.72,903.15 337.98,902.27 339.24,901.25 340.5,900.88 341.76,900.97 343.02,901.41 344.28,900.98 345.54,901.74 346.8,901.98 348.06,902.13 349.32,902.07 350.58,902.42 351.84,903.78 353.1,904.86 354.36,905.25 355.62,904.36 356.88,901.77 358.14,899.44 359.4,900.92 360.66,902.14 361.92,902.94 363.18,903.5 364.44,904.76 365.7,904.08 366.96,903.82 368.22,902.4 369.48,901.16 370.74,900.77 372,899.37 373.26,900 374.52,900.31 375.78,901.16 377.04,901.77 378,902.1" fill="none" stroke="#52960c" stroke-width="3" stroke-linejoin="round" stroke-linecap="round"/>
<polyline points="57,937.88 58.26,937.59 59.52,938.71 60.78,938.47 62.04,938.98 63.3,939.75 64.56,939.9 65.82,940.3 67.08,940.92 68.34,941.01 69.6,941.93 70.86,941.82 72.12,942.81 73.38,943.2 74.64,943.37 75.9,943.33 77.16,944.42 78.42,944.16 79.68,945.01 80.94,945.35 82.2,945.44 83.46,946.18 84.72,946.16 85.98,945.93 87.24,945.66 88.5,945.66 89.76,945.62 91.02,945.19 92.28,945.67 93.54,945.68 94.8,945.4 96.06,945.44 97.32,944.77 98.58,945.25 99.84,944.33 101.1,944.13 102.36,943.19 103.62,942.85 104.88,942.42 106.14,941.82 107.4,940.96 108.66,940.23 109.92,939.46 111.18,939.67 112.44,939.62 113.7,939.6 114.96,940.14 116.22,940 117.48,939.99 118.74,939.84 120,940.35 121.26,939.95 122.52,940.07 123.78,940.4 125.04,940.58 126.3,940.87 127.56,940.71 128.82,940.93 130.08,940.95 131.34,940.55 132.6,939.6 133.86,938.06 135.12,937.16 136.38,935.18 137.64,934.14 138.9,933.5 140.16,933.42 141.42,933.09 142.68,933.17 143.94,933 145.2,933.42 146.46,934.75 147.72,936.88 148.98,939.4 150.24,942.26 151.5,945.18 152.76,947.35 154.02,948.25 155.28,948.92 156.54,949.58 157.8,953.55 159.06,959.26 160.32,964.42 161.58,965.61 162.84,967.54 164.1,968.93 165.36,969.58 166.62,968.32 167.88,967.64 169.14,966.04 170.4,965.27 171.66,965.44 172.92,965.15 174.18,964.64 175.44,964.44 176.7,964 177.96,964.56 179.22,964.14 180.48,964.06 181.74,963.73 183,962.87 184.26,962.77 185.52,962.09 186.78,962.11 188.04,961.78 189.3,960.77 190.56,959.55 191.82,957.67 193.08,956.13 194.34,956.83 195.6,957.38 196.86,959 198.12,959.84 199.38,960.43 200.64,960.12 201.9,960.15 203.16,959.1 204.42,957.95 205.68,957.45 206.94,956.99 208.2,956.49 209.46,955.4 210.72,954.81 211.98,953.69 213.24,952.99 214.5,952.86 215.76,952.38 217.02,952.61 218.28,953.53 219.54,953.59 220.8,954.13 222.06,954.84 223.32,955.44 224.58,955.96 225.84,956.3 227.1,956.23 228.36,956.06 229.62,956.82 230.88,956.38 232.14,956.93 233.4,957.03 234.66,957.44 235.92,957.65 237.18,957.39 238.44,957.93 239.7,958.13 240.96,957.7 242.22,957.03 243.48,957.36 244.74,956.71 246,955.87 247.26,955.66 248.52,955.97 249.78,954.92 251.04,954.9 252.3,955.13 253.56,955.04 254.82,954.74 256.08,954.71 257.34,953.95 258.6,953.87 259.86,954.54 261.12,954.54 262.38,954.05 263.64,954.25 264.9,954.62 266.16,955.43 267.42,954.99 268.68,955.59 269.94,956.01 271.2,955.94 272.46,956.39 273.72,955.99 274.98,956.09 276.24,955.9 277.5,956.5 278.76,955.85 280.02,956.56 281.28,956.26 282.54,955.73 283.8,956.22 285.06,955.57 286.32,955.82 287.58,955.39 288.84,955.94 290.1,955.97 291.36,955.92 292.62,955.04 293.88,955.73 295.14,955.4 296.4,955.58 297.66,955.22 298.92,955.26 300.18,954.95 301.44,953.5 302.7,951.21 303.96,951.26 305.22,952.31 306.48,952.69 307.74,953.4 309,953.66 310.26,952.91 311.52,950.86 312.78,950.18 314.04,948.75 315.3,947.03 316.56,945.34 317.82,944.43 319.08,942.65 320.34,941.46 321.6,939.79 322.86,940 324.12,939.42 325.38,939.05 326.64,938.62 327.9,939 329.16,938.91 330.42,938.72 331.68,937.85 332.94,937.9 334.2,937.65 335.46,937.91 336.72,937.28 337.98,937.62 339.24,937.88 340.5,937.61 341.76,936.85 343.02,936.84 344.28,936.8 345.54,937.24 346.8,937.08 348.06,936.93 349.32,936.8 350.58,936.66 351.84,936.72 353.1,936.62 354.36,936.74 355.62,936.45 356.88,936.38 358.14,936.36 359.4,936.16 360.66,936.1 361.92,935.69 363.18,936.48 364.44,936.83 365.7,936.66 366.96,937.26 368.22,936.84 369.48,937.73 370.74,937.48 372,937.92 373.26,937.71 374.52,937.96 375.78,938.21 377.04,938.39 378,938.7" fill="none" stroke="#a2155a" stroke-width="3" stroke-linejoin="round" stroke-linecap="round"/>
<line x1="131.5" y1="831.7" x2="131.5" y2="1021" stroke="#000" stroke-width="2.6" stroke-dasharray="2.6 3.1"/>
<text x="131.8" y="820.4" font-size="15" font-family="Liberation Mono, monospace" fill="#111" text-anchor="middle">1</text>
<line x1="156.4" y1="831.7" x2="156.4" y2="1021" stroke="#000" stroke-width="2.6" stroke-dasharray="2.6 3.1"/>
<text x="156.7" y="820.4" font-size="15" font-family="Liberation Mono, monospace" fill="#111" text-anchor="middle">2</text>
<line x1="309.1" y1="831.7" x2="309.1" y2="1021" stroke="#000" stroke-width="2.6" stroke-dasharray="2.6 3.1"/>
<text x="309.4" y="820.4" font-size="15" font-family="Liberation Mono, monospace" fill="#111" text-anchor="middle">3</text>
<line x1="57" y1="832.5" x2="57" y2="1025.8" stroke="#111" stroke-width="1.5"/>
<line x1="56.3" y1="1025.2" x2="379" y2="1025.2" stroke="#111" stroke-width="1.5"/>
<line x1="53.5" y1="994.02" x2="57" y2="994.02" stroke="#111" stroke-width="1.2"/>
<text x="52.4" y="997.61" font-size="10.4" fill="#2a2a2a" text-anchor="end">375</text>
<line x1="53.5" y1="949.98" x2="57" y2="949.98" stroke="#111" stroke-width="1.2"/>
<text x="52.4" y="953.57" font-size="10.4" fill="#2a2a2a" text-anchor="end">450</text>
<line x1="53.5" y1="905.94" x2="57" y2="905.94" stroke="#111" stroke-width="1.2"/>
<text x="52.4" y="909.53" font-size="10.4" fill="#2a2a2a" text-anchor="end">525</text>
<line x1="53.5" y1="861.9" x2="57" y2="861.9" stroke="#111" stroke-width="1.2"/>
<text x="52.4" y="865.49" font-size="10.4" fill="#2a2a2a" text-anchor="end">600</text>
<line x1="81.1" y1="1025.2" x2="81.1" y2="1028.4" stroke="#111" stroke-width="1.2"/>
<text x="81.1" y="1039.39" font-size="10.4" fill="#2a2a2a" text-anchor="middle">10</text>
<line x1="106.5" y1="1025.2" x2="106.5" y2="1028.4" stroke="#111" stroke-width="1.2"/>
<text x="106.5" y="1039.39" font-size="10.4" fill="#2a2a2a" text-anchor="middle">20</text>
<line x1="131.9" y1="1025.2" x2="131.9" y2="1028.4" stroke="#111" stroke-width="1.2"/>
<text x="131.9" y="1039.39" font-size="10.4" fill="#2a2a2a" text-anchor="middle">30</text>
<line x1="157.3" y1="1025.2" x2="157.3" y2="1028.4" stroke="#111" stroke-width="1.2"/>
<text x="157.3" y="1039.39" font-size="10.4" fill="#2a2a2a" text-anchor="middle">40</text>
<line x1="182.7" y1="1025.2" x2="182.7" y2="1028.4" stroke="#111" stroke-width="1.2"/>
<text x="182.7" y="1039.39" font-size="10.4" fill="#2a2a2a" text-anchor="middle">50</text>
<line x1="208.1" y1="1025.2" x2="208.1" y2="1028.4" stroke="#111" stroke-width="1.2"/>
<text x="208.1" y="1039.39" font-size="10.4" fill="#2a2a2a" text-anchor="middle">60</text>
<line x1="233.5" y1="1025.2" x2="233.5" y2="1028.4" stroke="#111" stroke-width="1.2"/>
<text x="233.5" y="1039.39" font-size="10.4" fill="#2a2a2a" text-anchor="middle">70</text>
<line x1="258.9" y1="1025.2" x2="258.9" y2="1028.4" stroke="#111" stroke-width="1.2"/>
<text x="258.9" y="1039.39" font-size="10.4" fill="#2a2a2a" text-anchor="middle">80</text>
<line x1="284.3" y1="1025.2" x2="284.3" y2="1028.4" stroke="#111" stroke-width="1.2"/>
<text x="284.3" y="1039.39" font-size="10.4" fill="#2a2a2a" text-anchor="middle">90</text>
<line x1="309.7" y1="1025.2" x2="309.7" y2="1028.4" stroke="#111" stroke-width="1.2"/>
<text x="309.7" y="1039.39" font-size="10.4" fill="#2a2a2a" text-anchor="middle">100</text>
<line x1="335.1" y1="1025.2" x2="335.1" y2="1028.4" stroke="#111" stroke-width="1.2"/>
<text x="335.1" y="1039.39" font-size="10.4" fill="#2a2a2a" text-anchor="middle">110</text>
<line x1="360.5" y1="1025.2" x2="360.5" y2="1028.4" stroke="#111" stroke-width="1.2"/>
<text x="360.5" y="1039.39" font-size="10.4" fill="#2a2a2a" text-anchor="middle">120</text>
<line x1="64.5" y1="837.7" x2="72.9" y2="837.7" stroke="#52960c" stroke-width="3.4" stroke-linecap="round"/>
<line x1="64.5" y1="857.1" x2="72.9" y2="857.1" stroke="#a2155a" stroke-width="3.4" stroke-linecap="round"/>
<text x="79.9" y="840.91" font-size="9.3" fill="#222" text-anchor="start" textLength="27.9" lengthAdjust="spacingAndGlyphs">TCS ON</text>
<text x="79.9" y="860.31" font-size="9.3" fill="#222" text-anchor="start" textLength="31.3" lengthAdjust="spacingAndGlyphs">TCS OFF</text>
<text x="5.5" y="826.1" font-size="18" font-weight="bold" fill="#000">(G)</text>
<text transform="translate(31.3,926.5) scale(1,1) rotate(-90)" font-size="10.8" fill="#2a2a2a" text-anchor="middle" textLength="50.1" lengthAdjust="spacingAndGlyphs">HR (bpm)</text>
<text x="218.6" y="1055.86" font-size="10.6" fill="#2a2a2a" text-anchor="middle" textLength="36.2" lengthAdjust="spacingAndGlyphs">Time (s)</text>
<line x1="513.7" y1="329.6" x2="513.7" y2="375.3" stroke="#a0205e" stroke-width="1.7"/>
<line x1="513.7" y1="414.8" x2="513.7" y2="431.6" stroke="#a0205e" stroke-width="1.7"/>
<line x1="493.9" y1="329.6" x2="533.5" y2="329.6" stroke="#a0205e" stroke-width="1.7"/>
<line x1="493.9" y1="431.6" x2="533.5" y2="431.6" stroke="#a0205e" stroke-width="1.7"/>
<rect x="475.2" y="375.3" width="77.1" height="39.5" fill="#c888a8" stroke="#a0205e" stroke-width="1.9"/>
<line x1="475.2" y1="393.7" x2="552.3" y2="393.7" stroke="#a0205e" stroke-width="1.9"/>
<line x1="628.8" y1="436.3" x2="628.8" y2="464.8" stroke="#54960f" stroke-width="1.7"/>
<line x1="628.8" y1="497.1" x2="628.8" y2="504.3" stroke="#54960f" stroke-width="1.7"/>
<line x1="608.9" y1="436.3" x2="648.7" y2="436.3" stroke="#54960f" stroke-width="1.7"/>
<line x1="608.9" y1="504.3" x2="648.7" y2="504.3" stroke="#54960f" stroke-width="1.7"/>
<rect x="589.9" y="464.8" width="78" height="32.3" fill="#a5c87d" stroke="#54960f" stroke-width="1.9"/>
<line x1="589.9" y1="484" x2="667.9" y2="484" stroke="#54960f" stroke-width="1.9"/>
<line x1="437" y1="303" x2="437" y2="506.45" stroke="#111" stroke-width="1.6"/>
<line x1="436.2" y1="505.7" x2="706" y2="505.7" stroke="#111" stroke-width="1.6"/>
<line x1="433" y1="505.7" x2="437" y2="505.7" stroke="#111" stroke-width="1.3"/>
<text x="431.4" y="509.5" font-size="11" fill="#2a2a2a" text-anchor="end">0</text>
<line x1="433" y1="468.84" x2="437" y2="468.84" stroke="#111" stroke-width="1.3"/>
<text x="431.4" y="472.63" font-size="11" fill="#2a2a2a" text-anchor="end">20</text>
<line x1="433" y1="431.98" x2="437" y2="431.98" stroke="#111" stroke-width="1.3"/>
<text x="431.4" y="435.78" font-size="11" fill="#2a2a2a" text-anchor="end">40</text>
<line x1="433" y1="395.12" x2="437" y2="395.12" stroke="#111" stroke-width="1.3"/>
<text x="431.4" y="398.92" font-size="11" fill="#2a2a2a" text-anchor="end">60</text>
<line x1="433" y1="358.26" x2="437" y2="358.26" stroke="#111" stroke-width="1.3"/>
<text x="431.4" y="362.06" font-size="11" fill="#2a2a2a" text-anchor="end">80</text>
<line x1="433" y1="321.4" x2="437" y2="321.4" stroke="#111" stroke-width="1.3"/>
<text x="431.4" y="325.19" font-size="11" fill="#2a2a2a" text-anchor="end">100</text>
<line x1="513.7" y1="505.7" x2="513.7" y2="509.7" stroke="#111" stroke-width="1.3"/>
<text x="513.7" y="521.56" font-size="10.6" fill="#222" text-anchor="middle">TCS OFF</text>
<line x1="628.8" y1="505.7" x2="628.8" y2="509.7" stroke="#111" stroke-width="1.3"/>
<text x="628.8" y="521.56" font-size="10.6" fill="#222" text-anchor="middle">TCS ON</text>
<rect x="509.4" y="325.1" width="8.6" height="8.6" fill="#fff" stroke="#a0205e" stroke-width="1.7"/>
<rect x="503.9" y="363.1" width="8.6" height="8.6" fill="#fff" stroke="#a0205e" stroke-width="1.7"/>
<rect x="515.1" y="366.1" width="8.6" height="8.6" fill="#fff" stroke="#a0205e" stroke-width="1.7"/>
<rect x="498.6" y="373.5" width="8.6" height="8.6" fill="#fff" stroke="#a0205e" stroke-width="1.7"/>
<rect x="509.3" y="377.9" width="8.6" height="8.6" fill="#fff" stroke="#a0205e" stroke-width="1.7"/>
<rect x="520.1" y="375.8" width="8.6" height="8.6" fill="#fff" stroke="#a0205e" stroke-width="1.7"/>
<rect x="509.3" y="389" width="8.6" height="8.6" fill="#fff" stroke="#a0205e" stroke-width="1.7"/>
<rect x="498.6" y="400.7" width="8.6" height="8.6" fill="#fff" stroke="#a0205e" stroke-width="1.7"/>
<rect x="515" y="398" width="8.6" height="8.6" fill="#fff" stroke="#a0205e" stroke-width="1.7"/>
<rect x="503.7" y="411" width="8.6" height="8.6" fill="#fff" stroke="#a0205e" stroke-width="1.7"/>
<rect x="520.1" y="411.3" width="8.6" height="8.6" fill="#fff" stroke="#a0205e" stroke-width="1.7"/>
<rect x="514.8" y="418.6" width="8.6" height="8.6" fill="#fff" stroke="#a0205e" stroke-width="1.7"/>
<rect x="503.7" y="427.2" width="8.6" height="8.6" fill="#fff" stroke="#a0205e" stroke-width="1.7"/>
<rect x="624.25" y="431.75" width="8.7" height="8.7" fill="#4f8c08" stroke="#4f8c08" stroke-width="0.8"/>
<rect x="619.85" y="455.55" width="8.7" height="8.7" fill="#4f8c08" stroke="#4f8c08" stroke-width="0.8"/>
<rect x="629.85" y="455.55" width="8.7" height="8.7" fill="#4f8c08" stroke="#4f8c08" stroke-width="0.8"/>
<rect x="613.75" y="464.25" width="8.7" height="8.7" fill="#4f8c08" stroke="#4f8c08" stroke-width="0.8"/>
<rect x="635.25" y="466.15" width="8.7" height="8.7" fill="#4f8c08" stroke="#4f8c08" stroke-width="0.8"/>
<rect x="624.25" y="473.65" width="8.7" height="8.7" fill="#4f8c08" stroke="#4f8c08" stroke-width="0.8"/>
<rect x="635.25" y="479.65" width="8.7" height="8.7" fill="#4f8c08" stroke="#4f8c08" stroke-width="0.8"/>
<rect x="613.75" y="485.65" width="8.7" height="8.7" fill="#4f8c08" stroke="#4f8c08" stroke-width="0.8"/>
<rect x="624.25" y="485.65" width="8.7" height="8.7" fill="#4f8c08" stroke="#4f8c08" stroke-width="0.8"/>
<rect x="640.25" y="490.15" width="8.7" height="8.7" fill="#4f8c08" stroke="#4f8c08" stroke-width="0.8"/>
<rect x="608.75" y="496.75" width="8.7" height="8.7" fill="#4f8c08" stroke="#4f8c08" stroke-width="0.8"/>
<rect x="619.05" y="499.85" width="8.7" height="8.7" fill="#4f8c08" stroke="#4f8c08" stroke-width="0.8"/>
<rect x="629.15" y="499.85" width="8.7" height="8.7" fill="#4f8c08" stroke="#4f8c08" stroke-width="0.8"/>
<line x1="437" y1="468.84" x2="706.8" y2="468.84" stroke="#000" stroke-width="1.2" stroke-dasharray="2.7 1.7"/>
<line x1="514.6" y1="314.2" x2="628.6" y2="314.2" stroke="#3a3a3a" stroke-width="1.4"/>
<polygon points="561.88,304.5 562.62,306.48 564.73,306.57 563.07,307.89 563.64,309.93 561.88,308.76 560.11,309.93 560.68,307.89 559.02,306.57 561.13,306.48" fill="#111"/>
<polygon points="567.23,304.5 567.97,306.48 570.08,306.57 568.42,307.89 568.99,309.93 567.23,308.76 565.46,309.93 566.03,307.89 564.37,306.57 566.48,306.48" fill="#111"/>
<polygon points="572.57,304.5 573.32,306.48 575.43,306.57 573.77,307.89 574.34,309.93 572.57,308.76 570.81,309.93 571.38,307.89 569.72,306.57 571.83,306.48" fill="#111"/>
<polygon points="577.92,304.5 578.67,306.48 580.78,306.57 579.12,307.89 579.69,309.93 577.92,308.76 576.16,309.93 576.73,307.89 575.07,306.57 577.18,306.48" fill="#111"/>
<text x="395.4" y="298.6" font-size="18" font-weight="bold" fill="#000">(D)</text>
<text transform="translate(407.6,404.9) scale(1,1) rotate(-90)" font-size="10.8" fill="#2a2a2a" text-anchor="middle" textLength="73.8" lengthAdjust="spacingAndGlyphs">ΔSBP (mmHg)</text>
<line x1="513.5" y1="588.6" x2="513.5" y2="618.2" stroke="#a0205e" stroke-width="1.7"/>
<line x1="513.5" y1="665.5" x2="513.5" y2="684" stroke="#a0205e" stroke-width="1.7"/>
<line x1="494.2" y1="588.6" x2="532.8" y2="588.6" stroke="#a0205e" stroke-width="1.7"/>
<line x1="494.2" y1="684" x2="532.8" y2="684" stroke="#a0205e" stroke-width="1.7"/>
<rect x="475.2" y="618.2" width="76.4" height="47.3" fill="#c888a8" stroke="#a0205e" stroke-width="1.9"/>
<line x1="475.2" y1="638" x2="551.6" y2="638" stroke="#a0205e" stroke-width="1.9"/>
<line x1="627.3" y1="704.1" x2="627.3" y2="722.6" stroke="#54960f" stroke-width="1.7"/>
<line x1="627.3" y1="752.1" x2="627.3" y2="768" stroke="#54960f" stroke-width="1.7"/>
<line x1="608" y1="704.1" x2="646.6" y2="704.1" stroke="#54960f" stroke-width="1.7"/>
<line x1="608" y1="768" x2="646.6" y2="768" stroke="#54960f" stroke-width="1.7"/>
<rect x="588.9" y="722.6" width="76.6" height="29.5" fill="#a5c87d" stroke="#54960f" stroke-width="1.9"/>
<line x1="588.9" y1="740" x2="665.5" y2="740" stroke="#54960f" stroke-width="1.9"/>
<line x1="437.6" y1="563.4" x2="437.6" y2="768.75" stroke="#111" stroke-width="1.6"/>
<line x1="436.8" y1="768" x2="704.1" y2="768" stroke="#111" stroke-width="1.6"/>
<line x1="433.6" y1="768" x2="437.6" y2="768" stroke="#111" stroke-width="1.3"/>
<text x="432" y="771.79" font-size="11" fill="#2a2a2a" text-anchor="end">0</text>
<line x1="433.6" y1="709.56" x2="437.6" y2="709.56" stroke="#111" stroke-width="1.3"/>
<text x="432" y="713.35" font-size="11" fill="#2a2a2a" text-anchor="end">20</text>
<line x1="433.6" y1="651.12" x2="437.6" y2="651.12" stroke="#111" stroke-width="1.3"/>
<text x="432" y="654.91" font-size="11" fill="#2a2a2a" text-anchor="end">40</text>
<line x1="433.6" y1="592.68" x2="437.6" y2="592.68" stroke="#111" stroke-width="1.3"/>
<text x="432" y="596.47" font-size="11" fill="#2a2a2a" text-anchor="end">60</text>
<line x1="513.5" y1="768" x2="513.5" y2="772" stroke="#111" stroke-width="1.3"/>
<text x="513.5" y="784.26" font-size="10.6" fill="#222" text-anchor="middle">TCS OFF</text>
<line x1="627.3" y1="768" x2="627.3" y2="772" stroke="#111" stroke-width="1.3"/>
<text x="627.3" y="784.26" font-size="10.6" fill="#222" text-anchor="middle">TCS ON</text>
<rect x="509.1" y="584.3" width="8.6" height="8.6" fill="#fff" stroke="#a0205e" stroke-width="1.7"/>
<rect x="509.1" y="599.4" width="8.6" height="8.6" fill="#fff" stroke="#a0205e" stroke-width="1.7"/>
<rect x="498.4" y="612.3" width="8.6" height="8.6" fill="#fff" stroke="#a0205e" stroke-width="1.7"/>
<rect x="519.3" y="613.2" width="8.6" height="8.6" fill="#fff" stroke="#a0205e" stroke-width="1.7"/>
<rect x="510.8" y="622.2" width="8.6" height="8.6" fill="#fff" stroke="#a0205e" stroke-width="1.7"/>
<rect x="503.2" y="624.2" width="8.6" height="8.6" fill="#fff" stroke="#a0205e" stroke-width="1.7"/>
<rect x="514.2" y="633.5" width="8.6" height="8.6" fill="#fff" stroke="#a0205e" stroke-width="1.7"/>
<rect x="514.2" y="645.3" width="8.6" height="8.6" fill="#fff" stroke="#a0205e" stroke-width="1.7"/>
<rect x="503.2" y="649" width="8.6" height="8.6" fill="#fff" stroke="#a0205e" stroke-width="1.7"/>
<rect x="519.3" y="659.8" width="8.6" height="8.6" fill="#fff" stroke="#a0205e" stroke-width="1.7"/>
<rect x="497.7" y="664.6" width="8.6" height="8.6" fill="#fff" stroke="#a0205e" stroke-width="1.7"/>
<rect x="508.7" y="666" width="8.6" height="8.6" fill="#fff" stroke="#a0205e" stroke-width="1.7"/>
<rect x="509.1" y="679.7" width="8.6" height="8.6" fill="#fff" stroke="#a0205e" stroke-width="1.7"/>
<rect x="628.05" y="699.55" width="8.7" height="8.7" fill="#4f8c08" stroke="#4f8c08" stroke-width="0.8"/>
<rect x="617.95" y="704.15" width="8.7" height="8.7" fill="#4f8c08" stroke="#4f8c08" stroke-width="0.8"/>
<rect x="611.85" y="718.25" width="8.7" height="8.7" fill="#4f8c08" stroke="#4f8c08" stroke-width="0.8"/>
<rect x="633.55" y="716.75" width="8.7" height="8.7" fill="#4f8c08" stroke="#4f8c08" stroke-width="0.8"/>
<rect x="622.95" y="719.75" width="8.7" height="8.7" fill="#4f8c08" stroke="#4f8c08" stroke-width="0.8"/>
<rect x="601.75" y="735.65" width="8.7" height="8.7" fill="#4f8c08" stroke="#4f8c08" stroke-width="0.8"/>
<rect x="638.65" y="732.65" width="8.7" height="8.7" fill="#4f8c08" stroke="#4f8c08" stroke-width="0.8"/>
<rect x="611.85" y="738.65" width="8.7" height="8.7" fill="#4f8c08" stroke="#4f8c08" stroke-width="0.8"/>
<rect x="627.75" y="737.95" width="8.7" height="8.7" fill="#4f8c08" stroke="#4f8c08" stroke-width="0.8"/>
<rect x="617.15" y="744.75" width="8.7" height="8.7" fill="#4f8c08" stroke="#4f8c08" stroke-width="0.8"/>
<rect x="633.05" y="752.35" width="8.7" height="8.7" fill="#4f8c08" stroke="#4f8c08" stroke-width="0.8"/>
<rect x="627.75" y="752.35" width="8.7" height="8.7" fill="#4f8c08" stroke="#4f8c08" stroke-width="0.8"/>
<rect x="617.45" y="763.65" width="8.7" height="8.7" fill="#4f8c08" stroke="#4f8c08" stroke-width="0.8"/>
<line x1="513.5" y1="573.7" x2="627.3" y2="573.7" stroke="#3a3a3a" stroke-width="1.4"/>
<polygon points="560.53,565.3 561.27,567.28 563.38,567.37 561.72,568.69 562.29,570.73 560.53,569.56 558.76,570.73 559.33,568.69 557.67,567.37 559.78,567.28" fill="#111"/>
<polygon points="565.88,565.3 566.62,567.28 568.73,567.37 567.07,568.69 567.64,570.73 565.88,569.56 564.11,570.73 564.68,568.69 563.02,567.37 565.13,567.28" fill="#111"/>
<text x="397.1" y="561.3" font-size="18" font-weight="bold" fill="#000">(F)</text>
<text transform="translate(414.8,666.6) scale(1,1) rotate(-90)" font-size="10.8" fill="#2a2a2a" text-anchor="middle" textLength="75" lengthAdjust="spacingAndGlyphs">ΔDBP (mmHg)</text>
<line x1="514.9" y1="875.6" x2="514.9" y2="896.8" stroke="#a0205e" stroke-width="1.7"/>
<line x1="514.9" y1="978.7" x2="514.9" y2="1017.8" stroke="#a0205e" stroke-width="1.7"/>
<line x1="496.5" y1="875.6" x2="533.3" y2="875.6" stroke="#a0205e" stroke-width="1.7"/>
<line x1="496.5" y1="1017.8" x2="533.3" y2="1017.8" stroke="#a0205e" stroke-width="1.7"/>
<rect x="477.7" y="896.8" width="73.9" height="81.9" fill="#c888a8" stroke="#a0205e" stroke-width="1.9"/>
<line x1="477.7" y1="938.2" x2="551.6" y2="938.2" stroke="#a0205e" stroke-width="1.9"/>
<line x1="627.3" y1="874.8" x2="627.3" y2="878.7" stroke="#54960f" stroke-width="1.7"/>
<line x1="627.3" y1="890.2" x2="627.3" y2="898.9" stroke="#54960f" stroke-width="1.7"/>
<line x1="608.1" y1="874.8" x2="646.5" y2="874.8" stroke="#54960f" stroke-width="1.7"/>
<line x1="608.1" y1="898.9" x2="646.5" y2="898.9" stroke="#54960f" stroke-width="1.7"/>
<rect x="589.5" y="878.7" width="75.5" height="11.5" fill="#a5c87d" stroke="#54960f" stroke-width="1.9"/>
<line x1="589.5" y1="885" x2="665" y2="885" stroke="#54960f" stroke-width="1.9"/>
<line x1="439.7" y1="826.8" x2="439.7" y2="1030.45" stroke="#111" stroke-width="1.6"/>
<line x1="438.9" y1="1029.7" x2="708.9" y2="1029.7" stroke="#111" stroke-width="1.6"/>
<line x1="435.7" y1="1016" x2="439.7" y2="1016" stroke="#111" stroke-width="1.3"/>
<text x="434.1" y="1019.79" font-size="11" fill="#2a2a2a" text-anchor="end">-200</text>
<line x1="435.7" y1="980.9" x2="439.7" y2="980.9" stroke="#111" stroke-width="1.3"/>
<text x="434.1" y="984.69" font-size="11" fill="#2a2a2a" text-anchor="end">-150</text>
<line x1="435.7" y1="945.8" x2="439.7" y2="945.8" stroke="#111" stroke-width="1.3"/>
<text x="434.1" y="949.59" font-size="11" fill="#2a2a2a" text-anchor="end">-100</text>
<line x1="435.7" y1="910.7" x2="439.7" y2="910.7" stroke="#111" stroke-width="1.3"/>
<text x="434.1" y="914.5" font-size="11" fill="#2a2a2a" text-anchor="end">-50</text>
<line x1="435.7" y1="875.6" x2="439.7" y2="875.6" stroke="#111" stroke-width="1.3"/>
<text x="434.1" y="879.39" font-size="11" fill="#2a2a2a" text-anchor="end">0</text>
<line x1="435.7" y1="840.5" x2="439.7" y2="840.5" stroke="#111" stroke-width="1.3"/>
<text x="434.1" y="844.29" font-size="11" fill="#2a2a2a" text-anchor="end">50</text>
<line x1="514.9" y1="1029.7" x2="514.9" y2="1033.7" stroke="#111" stroke-width="1.3"/>
<text x="514.9" y="1045.26" font-size="10.6" fill="#222" text-anchor="middle">TCS OFF</text>
<line x1="627.3" y1="1029.7" x2="627.3" y2="1033.7" stroke="#111" stroke-width="1.3"/>
<text x="627.3" y="1045.26" font-size="10.6" fill="#222" text-anchor="middle">TCS ON</text>
<rect x="499.6" y="872" width="8.6" height="8.6" fill="#fff" stroke="#a0205e" stroke-width="1.7"/>
<rect x="521.1" y="872" width="8.6" height="8.6" fill="#fff" stroke="#a0205e" stroke-width="1.7"/>
<rect x="510.6" y="876.7" width="8.6" height="8.6" fill="#fff" stroke="#a0205e" stroke-width="1.7"/>
<rect x="510.6" y="905.3" width="8.6" height="8.6" fill="#fff" stroke="#a0205e" stroke-width="1.7"/>
<rect x="510.6" y="920.6" width="8.6" height="8.6" fill="#fff" stroke="#a0205e" stroke-width="1.7"/>
<rect x="494.9" y="926.8" width="8.6" height="8.6" fill="#fff" stroke="#a0205e" stroke-width="1.7"/>
<rect x="505.3" y="934.9" width="8.6" height="8.6" fill="#fff" stroke="#a0205e" stroke-width="1.7"/>
<rect x="516.3" y="934.9" width="8.6" height="8.6" fill="#fff" stroke="#a0205e" stroke-width="1.7"/>
<rect x="526.3" y="933.9" width="8.6" height="8.6" fill="#fff" stroke="#a0205e" stroke-width="1.7"/>
<rect x="510.6" y="959.2" width="8.6" height="8.6" fill="#fff" stroke="#a0205e" stroke-width="1.7"/>
<rect x="510.6" y="991.1" width="8.6" height="8.6" fill="#fff" stroke="#a0205e" stroke-width="1.7"/>
<rect x="505.3" y="1012.6" width="8.6" height="8.6" fill="#fff" stroke="#a0205e" stroke-width="1.7"/>
<rect x="516.3" y="1010.2" width="8.6" height="8.6" fill="#fff" stroke="#a0205e" stroke-width="1.7"/>
<rect x="612.15" y="869.75" width="8.7" height="8.7" fill="#4f8c08" stroke="#4f8c08" stroke-width="0.8"/>
<rect x="623.15" y="871.85" width="8.7" height="8.7" fill="#4f8c08" stroke="#4f8c08" stroke-width="0.8"/>
<rect x="638.35" y="870.45" width="8.7" height="8.7" fill="#4f8c08" stroke="#4f8c08" stroke-width="0.8"/>
<rect x="654.15" y="873.15" width="8.7" height="8.7" fill="#4f8c08" stroke="#4f8c08" stroke-width="0.8"/>
<rect x="596.35" y="878.05" width="8.7" height="8.7" fill="#4f8c08" stroke="#4f8c08" stroke-width="0.8"/>
<rect x="607.35" y="878.65" width="8.7" height="8.7" fill="#4f8c08" stroke="#4f8c08" stroke-width="0.8"/>
<rect x="617.65" y="879.65" width="8.7" height="8.7" fill="#4f8c08" stroke="#4f8c08" stroke-width="0.8"/>
<rect x="623.15" y="882.15" width="8.7" height="8.7" fill="#4f8c08" stroke="#4f8c08" stroke-width="0.8"/>
<rect x="633.55" y="878.65" width="8.7" height="8.7" fill="#4f8c08" stroke="#4f8c08" stroke-width="0.8"/>
<rect x="644.55" y="878.65" width="8.7" height="8.7" fill="#4f8c08" stroke="#4f8c08" stroke-width="0.8"/>
<rect x="612.15" y="888.35" width="8.7" height="8.7" fill="#4f8c08" stroke="#4f8c08" stroke-width="0.8"/>
<rect x="623.15" y="893.85" width="8.7" height="8.7" fill="#4f8c08" stroke="#4f8c08" stroke-width="0.8"/>
<rect x="633.55" y="893.15" width="8.7" height="8.7" fill="#4f8c08" stroke="#4f8c08" stroke-width="0.8"/>
<line x1="439.7" y1="875.6" x2="717.5" y2="875.6" stroke="#000" stroke-width="1.2" stroke-dasharray="2.7 1.7"/>
<line x1="515" y1="859.3" x2="627.3" y2="859.3" stroke="#3a3a3a" stroke-width="1.4"/>
<polygon points="560.98,849 561.72,850.98 563.83,851.07 562.17,852.39 562.74,854.43 560.98,853.26 559.21,854.43 559.78,852.39 558.12,851.07 560.23,850.98" fill="#111"/>
<polygon points="566.33,849 567.07,850.98 569.18,851.07 567.52,852.39 568.09,854.43 566.33,853.26 564.56,854.43 565.13,852.39 563.47,851.07 565.58,850.98" fill="#111"/>
<polygon points="571.67,849 572.42,850.98 574.53,851.07 572.87,852.39 573.44,854.43 571.67,853.26 569.91,854.43 570.48,852.39 568.82,851.07 570.93,850.98" fill="#111"/>
<polygon points="577.02,849 577.77,850.98 579.88,851.07 578.22,852.39 578.79,854.43 577.02,853.26 575.26,854.43 575.83,852.39 574.17,851.07 576.28,850.98" fill="#111"/>
<text x="396.7" y="818.7" font-size="18" font-weight="bold" fill="#000">(H)</text>
<text transform="translate(408.5,929) scale(1,1) rotate(-90)" font-size="10.8" fill="#2a2a2a" text-anchor="middle" textLength="60.9" lengthAdjust="spacingAndGlyphs">ΔHR (bpm)</text>
</svg>
</body></html>
